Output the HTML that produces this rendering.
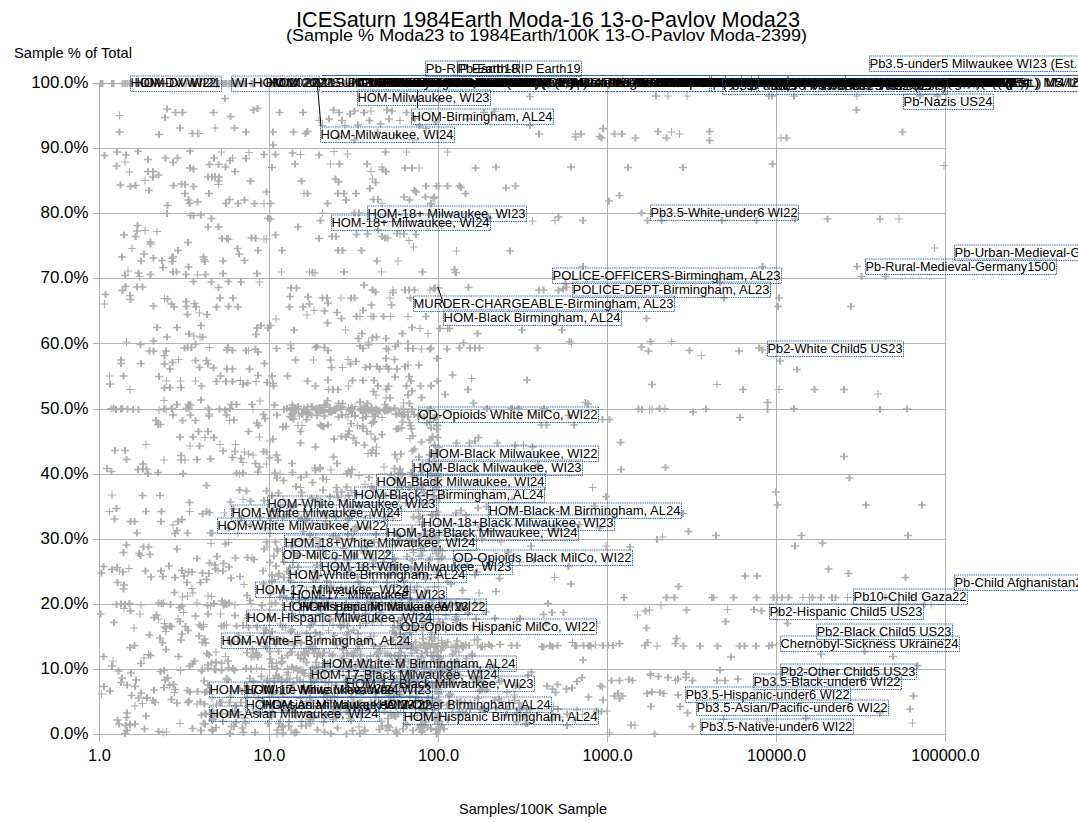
<!DOCTYPE html>
<html><head><meta charset="utf-8"><title>chart</title>
<style>html,body{margin:0;padding:0;background:#fff}svg{display:block}text{font-family:"Liberation Sans",sans-serif;fill:#000}</style></head>
<body>
<svg width="1078" height="823" viewBox="0 0 1078 823">
<rect width="1078" height="823" fill="#fff"/>
<path d="M93 734.5H946M93 669.5H946M93 604.5H946M93 539.5H946M93 474.5H946M93 409.5H946M93 343.5H946M93 278.5H946M93 213.5H946M93 148.5H946M93 83.5H946M99.5 83V742M269.5 83V742M438.5 83V742M607.5 83V742M776.5 83V742M945.5 83V742" stroke="#b3b3b3" stroke-width="1" fill="none" shape-rendering="crispEdges"/>
<path d="M189 593h8M193 589v8M248 558h8M252 554v8M207 543.5h8M211 539.5v8M240 584.5h8M244 580.5v8M204 596h8M208 592v8M263 547h8M267 543v8M188 588.5h8M192 584.5v8M183.5 596h8M187.5 592v8M125 568.5h8M129 564.5v8M207.5 596.5h8M211.5 592.5v8M178.5 597h8M182.5 593v8M224.5 542.5h8M228.5 538.5v8M250 656h8M254 652v8M120 608.5h8M124 604.5v8M130 628h8M134 624v8M109 661h8M113 657v8M216.5 614h8M220.5 610v8M179.5 612.5h8M183.5 608.5v8M206.5 606h8M210.5 602v8M144.5 654.5h8M148.5 650.5v8M174 619h8M178 615v8M257.5 668.5h8M261.5 664.5v8M260 628h8M264 624v8M154.5 619h8M158.5 615v8M246 635.5h8M250 631.5v8M221.5 656.5h8M225.5 652.5v8M136 614h8M140 610v8M140 658h8M144 654v8M137 605h8M141 601v8M160.5 623.5h8M164.5 619.5v8M162 631.5h8M166 627.5v8M131 706h8M135 702v8M193 704h8M197 700v8M208 698h8M212 694v8M163.5 678h8M167.5 674v8M176.5 670.5h8M180.5 666.5v8M176 723.5h8M180 719.5v8M228.5 711h8M232.5 707v8M249.5 713h8M253.5 709v8M142.5 698.5h8M146.5 694.5v8M162.5 732h8M166.5 728v8M159 732.5h8M163 728.5v8M170.5 692.5h8M174.5 688.5v8M97.5 694h8M101.5 690v8M212.5 704h8M216.5 700v8M263.5 679h8M267.5 675v8M252 710h8M256 706v8M138.5 703.5h8M142.5 699.5v8M198.5 669.5h8M202.5 665.5v8M367 434h8M371 430v8M364 453.5h8M368 449.5v8M298 425.5h8M302 421.5v8M266 441h8M270 437v8M429.5 455.5h8M433.5 451.5v8M327 470h8M331 466v8M406 438.5h8M410 434.5v8M367.5 423.5h8M371.5 419.5v8M380 467h8M384 463v8M424 410.5h8M428 406.5v8M383 409h8M387 405v8M393 459h8M397 455v8M294 425.5h8M298 421.5v8M372.5 447h8M376.5 443v8M425 440h8M429 436v8M353.5 425.5h8M357.5 421.5v8M369 422.5h8M373 418.5v8M313.5 523.5h8M317.5 519.5v8M314 501h8M318 497v8M298 499.5h8M302 495.5v8M312 537.5h8M316 533.5v8M279 499.5h8M283 495.5v8M426.5 531.5h8M430.5 527.5v8M408 476h8M412 472v8M341 527.5h8M345 523.5v8M276.5 505h8M280.5 501v8M322 521h8M326 517v8M431 475.5h8M435 471.5v8M347 490.5h8M351 486.5v8M429.5 486h8M433.5 482v8M415.5 522h8M419.5 518v8M273 510h8M277 506v8M425 538.5h8M429 534.5v8M322.5 479.5h8M326.5 475.5v8M388.5 518h8M392.5 514v8M379.5 498.5h8M383.5 494.5v8M434 481h8M438 477v8M313 498h8M317 494v8M296.5 487.5h8M300.5 483.5v8M393.5 487.5h8M397.5 483.5v8M414.5 510h8M418.5 506v8M331.5 536h8M335.5 532v8M332.5 511h8M336.5 507v8M341 501h8M345 497v8M266.5 533h8M270.5 529v8M361 484.5h8M365 480.5v8M344 507h8M348 503v8M429.5 499.5h8M433.5 495.5v8M419 551h8M423 547v8M371 564h8M375 560v8M405 597.5h8M409 593.5v8M270.5 579.5h8M274.5 575.5v8M370 542h8M374 538v8M391 544.5h8M395 540.5v8M368.5 564h8M372.5 560v8M366.5 601.5h8M370.5 597.5v8M428.5 550h8M432.5 546v8M426.5 557h8M430.5 553v8M368.5 599h8M372.5 595v8M369 560h8M373 556v8M302.5 590.5h8M306.5 586.5v8M291 573.5h8M295 569.5v8M424 575.5h8M428 571.5v8M415 556.5h8M419 552.5v8M342 589h8M346 585v8M332.5 539.5h8M336.5 535.5v8M318.5 549h8M322.5 545v8M424 590h8M428 586v8M392.5 568h8M396.5 564v8M430.5 587h8M434.5 583v8M275 574h8M279 570v8M430.5 548.5h8M434.5 544.5v8M369.5 581h8M373.5 577v8M417 550.5h8M421 546.5v8M413 586h8M417 582v8M317.5 598.5h8M321.5 594.5v8M390.5 584.5h8M394.5 580.5v8M396 603h8M400 599v8M380.5 559h8M384.5 555v8M297.5 541h8M301.5 537v8M289 599.5h8M293 595.5v8M339 548.5h8M343 544.5v8M289 552.5h8M293 548.5v8M390.5 558h8M394.5 554v8M409.5 552.5h8M413.5 548.5v8M432.5 572h8M436.5 568v8M366.5 656h8M370.5 652v8M322 665.5h8M326 661.5v8M401 636.5h8M405 632.5v8M293.5 634.5h8M297.5 630.5v8M401.5 659h8M405.5 655v8M299.5 614.5h8M303.5 610.5v8M319 625.5h8M323 621.5v8M433 651.5h8M437 647.5v8M349.5 656h8M353.5 652v8M297 643.5h8M301 639.5v8M381 653h8M385 649v8M430.5 638h8M434.5 634v8M288 641.5h8M292 637.5v8M324.5 630.5h8M328.5 626.5v8M419.5 627.5h8M423.5 623.5v8M345 621h8M349 617v8M395 628h8M399 624v8M427.5 656h8M431.5 652v8M413.5 659h8M417.5 655v8M344.5 631.5h8M348.5 627.5v8M432.5 609h8M436.5 605v8M391.5 645.5h8M395.5 641.5v8M336 668h8M340 664v8M370 636h8M374 632v8M372.5 654.5h8M376.5 650.5v8M425.5 640h8M429.5 636v8M276.5 624h8M280.5 620v8M266.5 616.5h8M270.5 612.5v8M429 644h8M433 640v8M394.5 655.5h8M398.5 651.5v8M388 645h8M392 641v8M330.5 697h8M334.5 693v8M333.5 697.5h8M337.5 693.5v8M392 730h8M396 726v8M384 730.5h8M388 726.5v8M299 670.5h8M303 666.5v8M276.5 720h8M280.5 716v8M361 730h8M365 726v8M379.5 688.5h8M383.5 684.5v8M433.5 723.5h8M437.5 719.5v8M355 727h8M359 723v8M417 727h8M421 723v8M380.5 687h8M384.5 683v8M339 675h8M343 671v8M361.5 683h8M365.5 679v8M382 728h8M386 724v8M342.5 706h8M346.5 702v8M273 734h8M277 730v8M423 701h8M427 697v8M428 673.5h8M432 669.5v8M420 672.5h8M424 668.5v8M413.5 715.5h8M417.5 711.5v8M278 679h8M282 675v8M289 690.5h8M293 686.5v8M321 677.5h8M325 673.5v8M403.5 682h8M407.5 678v8M296.5 698.5h8M300.5 694.5v8M287 730h8M291 726v8M403 705.5h8M407 701.5v8M420 691h8M424 687v8M302.5 701.5h8M306.5 697.5v8M433.5 670.5h8M437.5 666.5v8M419 703.5h8M423 699.5v8M283 675h8M287 671v8M324.5 683h8M328.5 679v8M309.5 673.5h8M313.5 669.5v8M358 703h8M362 699v8M417.5 725.5h8M421.5 721.5v8M319.5 722.5h8M323.5 718.5v8M423.5 716h8M427.5 712v8M275.5 677.5h8M279.5 673.5v8M325.5 677.5h8M329.5 673.5v8M319.5 697h8M323.5 693v8M390.5 693h8M394.5 689v8M373.5 674h8M377.5 670v8M433 720h8M437 716v8M430.5 710.5h8M434.5 706.5v8M398 687h8M402 683v8M389 685.5h8M393 681.5v8M323.5 700h8M327.5 696v8M374 679h8M378 675v8M328.5 696h8M332.5 692v8M327.5 685h8M331.5 681v8M361 705h8M365 701v8M313.5 703h8M317.5 699v8M378 701.5h8M382 697.5v8M279 694.5h8M283 690.5v8M533.5 455h8M537.5 451v8M471 471.5h8M475 467.5v8M588.5 487.5h8M592.5 483.5v8M460.5 533.5h8M464.5 529.5v8M508 499.5h8M512 495.5v8M438 495h8M442 491v8M438.5 551h8M442.5 547v8M497 542h8M501 538v8M550.5 577.5h8M554.5 573.5v8M435.5 550.5h8M439.5 546.5v8M475 593h8M479 589v8M515.5 562h8M519.5 558v8M435.5 598h8M439.5 594v8M462 644.5h8M466 640.5v8M447.5 663h8M451.5 659v8M470.5 666h8M474.5 662v8M442 615.5h8M446 611.5v8M593 623h8M597 619v8M477 629.5h8M481 625.5v8M513 621.5h8M517 617.5v8M568.5 642.5h8M572.5 638.5v8M446 673.5h8M450 669.5v8M571.5 720h8M575.5 716v8M436.5 687.5h8M440.5 683.5v8M434.5 713.5h8M438.5 709.5v8M503 692.5h8M507 688.5v8M495.5 681h8M499.5 677v8M520 716h8M524 712v8M434.5 689.5h8M438.5 685.5v8M549.5 706.5h8M553.5 702.5v8M510.5 695h8M514.5 691v8M578.5 714.5h8M582.5 710.5v8M460.5 702.5h8M464.5 698.5v8M155 410h8M159 406v8M162 409.5h8M166 405.5v8M249 409.5h8M253 405.5v8M107 408.5h8M111 404.5v8M204 408h8M208 404v8M319 409.5h8M323 405.5v8M337 409.5h8M341 405.5v8M360 410h8M364 406v8M367.5 411h8M371.5 407v8M300 408h8M304 404v8M351 406.5h8M355 402.5v8M336.5 408h8M340.5 404v8M364 411.5h8M368 407.5v8M359 407h8M363 403v8M312.5 409.5h8M316.5 405.5v8M344.5 408h8M348.5 404v8M397 409h8M401 405v8M342 414.5h8M346 410.5v8M302 412.5h8M306 408.5v8M295.5 416h8M299.5 412v8M378 417.5h8M382 413.5v8M350.5 416.5h8M354.5 412.5v8M369 412h8M373 408v8M299 413.5h8M303 409.5v8M287.5 410h8M291.5 406v8M287 416.5h8M291 412.5v8M408.5 410h8M412.5 406v8M320.5 411h8M324.5 407v8M344 417h8M348 413v8M387 410.5h8M391 406.5v8M295 517h8M299 513v8M380 516.5h8M384 512.5v8M286 573h8M290 569v8M311.5 571h8M315.5 567v8M115.5 571h8M119.5 567v8M214 570.5h8M218 566.5v8M159.5 603h8M163.5 599v8M452 604h8M456 600v8M231 605h8M235 601v8M193 603h8M197 599v8M247 603.5h8M251 599.5v8M403.5 605.5h8M407.5 601.5v8M342 604h8M346 600v8M306.5 605h8M310.5 601v8M355 475.5h8M359 471.5v8M397.5 473.5h8M401.5 469.5v8M434 473.5h8M438 469.5v8M276 474h8M280 470v8M329 625h8M333 621v8M199.5 624.5h8M203.5 620.5v8M470 626h8M474 622v8M281.5 627.5h8M285.5 623.5v8M222.5 625h8M226.5 621v8M199.5 626.5h8M203.5 622.5v8M437.5 640.5h8M441.5 636.5v8M470.5 640h8M474.5 636v8M295 641.5h8M299 637.5v8M256 643h8M260 639v8M381 646h8M385 642v8M481 646.5h8M485 642.5v8M424 645.5h8M428 641.5v8M426.5 647.5h8M430.5 643.5v8M449 647h8M453 643v8M406.5 646.5h8M410.5 642.5v8M414 647.5h8M418 643.5v8M478.5 646h8M482.5 642v8M447 647.5h8M451 643.5v8M461.5 645.5h8M465.5 641.5v8M473.5 645h8M477.5 641v8M587 646.5h8M591 642.5v8M591.5 645h8M595.5 641v8M252 653.5h8M256 649.5v8M212 652h8M216 648v8M429.5 652h8M433.5 648v8M455 652h8M459 648v8M325.5 653h8M329.5 649v8M431 653h8M435 649v8M339.5 654h8M343.5 650v8M289.5 669.5h8M293.5 665.5v8M283.5 668.5h8M287.5 664.5v8M436.5 669.5h8M440.5 665.5v8M210.5 669h8M214.5 665v8M252.5 668h8M256.5 664v8M326 669.5h8M330 665.5v8M453.5 669.5h8M457.5 665.5v8M272.5 663h8M276.5 659v8M363 661h8M367 657v8M415.5 663.5h8M419.5 659.5v8M414.5 680h8M418.5 676v8M299.5 681.5h8M303.5 677.5v8M364 679h8M368 675v8M408 690h8M412 686v8M269.5 692h8M273.5 688v8M481 690h8M485 686v8M381 690.5h8M385 686.5v8M306 701h8M310 697v8M259.5 701h8M263.5 697v8M302 703.5h8M306 699.5v8M505 702.5h8M509 698.5v8M503.5 709.5h8M507.5 705.5v8M396.5 708h8M400.5 704v8M275 707.5h8M279 703.5v8M429 709.5h8M433 705.5v8M311.5 709h8M315.5 705v8M389.5 715h8M393.5 711v8M224 714h8M228 710v8M512.5 713.5h8M516.5 709.5v8M598.5 687h8M602.5 683v8M523 713h8M527 709v8M556 717h8M560 713v8M573 710h8M577 706v8M389.5 83.5h8M393.5 79.5v8M902.5 83.5h8M906.5 79.5v8M747 83.5h8M751 79.5v8M435 83.5h8M439 79.5v8M841 83.5h8M845 79.5v8M379 83.5h8M383 79.5v8M212.5 83.5h8M216.5 79.5v8M639 83.5h8M643 79.5v8M181 83.5h8M185 79.5v8M215 83.5h8M219 79.5v8M233 83.5h8M237 79.5v8M534 83.5h8M538 79.5v8M669.5 83.5h8M673.5 79.5v8M731 83.5h8M735 79.5v8M231.5 83.5h8M235.5 79.5v8M699 83.5h8M703 79.5v8M809 83.5h8M813 79.5v8M172.5 83.5h8M176.5 79.5v8M495 83.5h8M499 79.5v8M403 83.5h8M407 79.5v8M453 83.5h8M457 79.5v8M284.5 83.5h8M288.5 79.5v8M581.5 83.5h8M585.5 79.5v8M934 83.5h8M938 79.5v8M869 83.5h8M873 79.5v8M503 83.5h8M507 79.5v8M850.5 83.5h8M854.5 79.5v8M674 83.5h8M678 79.5v8M768 83.5h8M772 79.5v8M642 83.5h8M646 79.5v8M155 83.5h8M159 79.5v8M249.5 83.5h8M253.5 79.5v8M851 83.5h8M855 79.5v8M689.5 83.5h8M693.5 79.5v8M549 83.5h8M553 79.5v8M201.5 83.5h8M205.5 79.5v8M739 83.5h8M743 79.5v8M913 83.5h8M917 79.5v8M564 83.5h8M568 79.5v8M687.5 83.5h8M691.5 79.5v8M197 83.5h8M201 79.5v8M146.5 83.5h8M150.5 79.5v8M224 83.5h8M228 79.5v8M664 96h8M668 92v8M683 96h8M687 92v8M853 96h8M857 92v8M667.5 132h8M671.5 128v8M675.5 134h8M679.5 130v8M777 138h8M781 134v8M940 165.5h8M944 161.5v8M895 219h8M899 215v8M930.5 248h8M934.5 244v8M667.5 341.5h8M671.5 337.5v8M697.5 355.5h8M701.5 351.5v8M713 384.5h8M717 380.5v8M775 389.5h8M779 385.5v8M874 394h8M878 390v8M645.5 409.5h8M649.5 405.5v8M648 409h8M652 405v8M661 408.5h8M665 404.5v8M658.5 537h8M662.5 533v8M602 546h8M606 542v8M799 597.5h8M803 593.5v8M805.5 597.5h8M809.5 593.5v8M843.5 597.5h8M847.5 593.5v8M907.5 597.5h8M911.5 593.5v8M633.5 615h8M637.5 611v8M645.5 610h8M649.5 606v8M657 605h8M661 601v8M723.5 609.5h8M727.5 605.5v8M653 646h8M657 642v8M804 646.5h8M808 642.5v8M927 604.5h8M931 600.5v8M646.5 675.5h8M650.5 671.5v8M671.5 680.5h8M675.5 676.5v8M603 711h8M607 707v8M631 725h8M635 721v8M908.5 723h8M912.5 719v8M719.5 719.5h8M723.5 715.5v8M605.5 733h8M609.5 729v8M571.5 134h8M575.5 130v8M599 128.5h8M603 124.5v8M443.5 152h8M447.5 148v8M435 186h8M439 182v8M528.5 221h8M532.5 217v8M551 220.5h8M555 216.5v8M437.5 225.5h8M441.5 221.5v8M452.5 251h8M456.5 247v8M443.5 328.5h8M447.5 324.5v8M567.5 343h8M571.5 339v8M467.5 378.5h8M471.5 374.5v8M519.5 445h8M523.5 441v8M115.5 115.5h8M119.5 111.5v8M211 128h8M215 124v8M193.5 133.5h8M197.5 129.5v8M195 133.5h8M199 129.5v8M367 111h8M371 107v8M315 120.5h8M319 116.5v8M396 120.5h8M400 116.5v8M318.5 125.5h8M322.5 121.5v8M341 125.5h8M345 121.5v8M422 128.5h8M426 124.5v8M409 140h8M413 136v8M121 162h8M125 158v8M125.5 172h8M129.5 168v8M217.5 152h8M221.5 148v8M228.5 158h8M232.5 154v8M245 152.5h8M249 148.5v8M141 180.5h8M145 176.5v8M214.5 184.5h8M218.5 180.5v8M260 203.5h8M264 199.5v8M141 230.5h8M145 226.5v8M153 231.5h8M157 227.5v8M128 248.5h8M132 244.5v8M224.5 239.5h8M228.5 235.5v8M260 239h8M264 235v8M262.5 239h8M266.5 235v8M167.5 258.5h8M171.5 254.5v8M124 271h8M128 267v8M193.5 275h8M197.5 271v8M135.5 276.5h8M139.5 272.5v8M296.5 154.5h8M300.5 150.5v8M330 151.5h8M334 147.5v8M343.5 154h8M347.5 150v8M402.5 152h8M406.5 148v8M326.5 164h8M330.5 160v8M378 167h8M382 163v8M367 171.5h8M371 167.5v8M415 168h8M419 164v8M368.5 179h8M372.5 175v8M300 193.5h8M304 189.5v8M378 203.5h8M382 199.5v8M318.5 213h8M322.5 209v8M396 234h8M400 230v8M405 240.5h8M409 236.5v8M409.5 247h8M413.5 243v8M394 261h8M398 257v8M277.5 272h8M281.5 268v8M305.5 272h8M309.5 268v8M311 273h8M315 269v8M377.5 272h8M381.5 268v8M255.5 282h8M259.5 278v8M100.5 304h8M104.5 300v8M160.5 298.5h8M164.5 294.5v8M195.5 313h8M199.5 309v8M190 336h8M194 332v8M196 337h8M200 333v8M122.5 342h8M126.5 338v8M205.5 347.5h8M209.5 343.5v8M244.5 350.5h8M248.5 346.5v8M174.5 359.5h8M178.5 355.5v8M105.5 376h8M109.5 372v8M162.5 381h8M166.5 377v8M176.5 381h8M180.5 377v8M191.5 381h8M195.5 377v8M236.5 380.5h8M240.5 376.5v8M252 381.5h8M256 377.5v8M126 389.5h8M130 385.5v8M160 400.5h8M164 396.5v8M256 401h8M260 397v8M389 290h8M393 286v8M426 290h8M430 286v8M337 298h8M341 294v8M386 298h8M390 294v8M310 310.5h8M314 306.5v8M303 315h8M307 311v8M356 316.5h8M360 312.5v8M367 316.5h8M371 312.5v8M386.5 316.5h8M390.5 312.5v8M404 316.5h8M408 312.5v8M272 319h8M276 315v8M341.5 330h8M345.5 326v8M416 328.5h8M420 324.5v8M424 333.5h8M428 329.5v8M364.5 342h8M368.5 338v8M286.5 345h8M290.5 341v8M384.5 350h8M388.5 346v8M417.5 349h8M421.5 345v8M309.5 360h8M313.5 356v8M344 359.5h8M348 355.5v8M338.5 367.5h8M342.5 363.5v8M404 365h8M408 361v8M324.5 389.5h8M328.5 385.5v8M344.5 386h8M348.5 382v8M372 395h8M376 391v8M382 398h8M386 394v8M399.5 403h8M403.5 399v8M205 414h8M209 410v8M225.5 420.5h8M229.5 416.5v8M201 437.5h8M205 433.5v8M255.5 437h8M259.5 433v8M142 444.5h8M146 440.5v8M186 446h8M190 442v8M216 444.5h8M220 440.5v8M231.5 444.5h8M235.5 440.5v8M240.5 452h8M244.5 448v8M244.5 454h8M248.5 450v8M249 455h8M253 451v8M160 460h8M164 456v8M181 460h8M185 456v8M239 462.5h8M243 458.5v8M262.5 464h8M266.5 460v8M235.5 474h8M239.5 470v8M108 495h8M112 491v8M239 499.5h8M243 495.5v8M105.5 511.5h8M109.5 507.5v8M185.5 511.5h8M189.5 507.5v8M220.5 513h8M224.5 509v8M169 525h8M173 521v8M234 533h8M238 529v8" stroke="#aeaeae" stroke-width="1.1" fill="none"/>
<path d="M173 549h8M221.5 544h8M205.5 563h8M119 572h8M113 567.5h8M122.5 545h8M135 553.5h8M218 601h8M211 565h8M262.5 542h8M139.5 547h8M170.5 592.5h8M147 577h8M219.5 563.5h8M119.5 552.5h8M225 567h8M171 577.5h8M193 558.5h8M159 576.5h8M231.5 558h8M141.5 571h8M113.5 582.5h8M236 576.5h8M250 559.5h8M227 578h8M211.5 569h8M246 600.5h8M196.5 582.5h8M120 585h8M221 604h8M243.5 557.5h8M183 582.5h8M108 569.5h8M144.5 547h8M119.5 589h8M136.5 555.5h8M243 595.5h8M165 566h8M260 549h8M146 554.5h8M157 571h8M213 556.5h8M99.5 566.5h8M180 576h8M259.5 584h8M202.5 579.5h8M253 655h8M184 630.5h8M130.5 645.5h8M152.5 615h8M175.5 607.5h8M96.5 614h8M160.5 627h8M247 669h8M195 636h8M126.5 611h8M176 621.5h8M244.5 615h8M108 666h8M204 614h8M204 668h8M248.5 649.5h8M162 628h8M205 655h8M242 668.5h8M247.5 657h8M243 652.5h8M156 638h8M178 606h8M110 622.5h8M162 649.5h8M260 633.5h8M150 617.5h8M217.5 663h8M126 647.5h8M254.5 655h8M234.5 635.5h8M146.5 655.5h8M174.5 656.5h8M262 630h8M185.5 666h8M231 615.5h8M254 657h8M263 647h8M177 640h8M261.5 646.5h8M204 665h8M190.5 661h8M244 618h8M158.5 642.5h8M137 663.5h8M178 634h8M212 663h8M188.5 664h8M200.5 639h8M203.5 605.5h8M191.5 616h8M99.5 656.5h8M145.5 635h8M231 705.5h8M173 703h8M208 720.5h8M160 687.5h8M237 702.5h8M209 719h8M254.5 698.5h8M216 702.5h8M202 714.5h8M197 730.5h8M227.5 726.5h8M258.5 686.5h8M208.5 731h8M246 678.5h8M134.5 698h8M123 685h8M123 713h8M238.5 728h8M142 716h8M222.5 678.5h8M251 732.5h8M154.5 731.5h8M185 701h8M264 723.5h8M143 697.5h8M202.5 691.5h8M150 690h8M230.5 670.5h8M106 691h8M217.5 702.5h8M121 733.5h8M239.5 732.5h8M131 686.5h8M113.5 720h8M163.5 678h8M188.5 728.5h8M243 686h8M140.5 729h8M210 715h8M127 673h8M226.5 697h8M123 730.5h8M219 721.5h8M126 725h8M121.5 725.5h8M193.5 691.5h8M208 729.5h8M204 685h8M132 680h8M117 682.5h8M171 689.5h8M235.5 688.5h8M200 681h8M160 670.5h8M232 705.5h8M149 700.5h8M257.5 676.5h8M243 697.5h8M199.5 723.5h8M184 702.5h8M226 733.5h8M186 692h8M118 678h8M122.5 717.5h8M161 680h8M126 724h8M165.5 685h8M167.5 699.5h8M262 705h8M196.5 702h8M151 702.5h8M100 686.5h8M127.5 695.5h8M114.5 671h8M169.5 684.5h8M234.5 712h8M230 726.5h8M183.5 690.5h8M231 711.5h8M115 724h8M232 722.5h8M201 724h8M241.5 723h8M212 727.5h8M225.5 714.5h8M156.5 671.5h8M137 693h8M131 724h8M208.5 710.5h8M218 713.5h8M240.5 718h8M200.5 704h8M395 413.5h8M406.5 425.5h8M282 426.5h8M405.5 422.5h8M407 472.5h8M410.5 449h8M392 414h8M407.5 429h8M380 410h8M279 426.5h8M397 454h8M397.5 428h8M371 439h8M362 416.5h8M426 422h8M433.5 470h8M269 439h8M417.5 472h8M359 426.5h8M311.5 470.5h8M311.5 447h8M296.5 443h8M431.5 417.5h8M417.5 442h8M425.5 455h8M316 467.5h8M365.5 410.5h8M359 428.5h8M296.5 431.5h8M333 463.5h8M265.5 458h8M420 417h8M427 428h8M344 434.5h8M434.5 447.5h8M342 437h8M325 412h8M288 463.5h8M319.5 426.5h8M370 421.5h8M344.5 471h8M425 462h8M390.5 468.5h8M430.5 445h8M404 412h8M408.5 451h8M327 412h8M429.5 417.5h8M363 431.5h8M329.5 457h8M433.5 426h8M394.5 428.5h8M378 434.5h8M302.5 419.5h8M311 468h8M427.5 474h8M359 418h8M307.5 415h8M338 415h8M317.5 426h8M408.5 436h8M352 443h8M345 431h8M279 427h8M433 417h8M368.5 450h8M423 423h8M324 425h8M349.5 438h8M431.5 464h8M272.5 455h8M426.5 440h8M348 469.5h8M418.5 464.5h8M433 425h8M289.5 419h8M372 453.5h8M430.5 456h8M360.5 445h8M274 460h8M316 469h8M392.5 429h8M391 454.5h8M290.5 413.5h8M347 423.5h8M385.5 409.5h8M330 439h8M432 451h8M316.5 425h8M432.5 455h8M331.5 410.5h8M367.5 453h8M396 469h8M315 411h8M337.5 436.5h8M398.5 422h8M415 457h8M433 429.5h8M417.5 489h8M329 536h8M367.5 486.5h8M396 536h8M297 477.5h8M406 539h8M430 495.5h8M306 535h8M395.5 498.5h8M344.5 495.5h8M302.5 474.5h8M326 497h8M432 482h8M432.5 487.5h8M418 502.5h8M344 534h8M307.5 498h8M426.5 476h8M351.5 527h8M410.5 476.5h8M273 478h8M429 491h8M408 532.5h8M337.5 492h8M432 514.5h8M333 492h8M266 523.5h8M428.5 515.5h8M316.5 505h8M432 536h8M355 506h8M418 524.5h8M386.5 495.5h8M334 497.5h8M413 479h8M308.5 523h8M319 478.5h8M335 538h8M287 506.5h8M402.5 503h8M316.5 501h8M408 529h8M395.5 482h8M420 493h8M406.5 487h8M319 490h8M299 531.5h8M381.5 495.5h8M348.5 538.5h8M369.5 489h8M416 516.5h8M363.5 527.5h8M420 533.5h8M274.5 493h8M292 486.5h8M433 512h8M429.5 498.5h8M423 503.5h8M321.5 524.5h8M431 481h8M384.5 514.5h8M320.5 513h8M268 495.5h8M398 486h8M332.5 487.5h8M279.5 480.5h8M348.5 510h8M391.5 480h8M301.5 519.5h8M351.5 492.5h8M423 539h8M342.5 487h8M405 487.5h8M354 527.5h8M350.5 531.5h8M268.5 510h8M392 533.5h8M285 514.5h8M297.5 492.5h8M372 534.5h8M289.5 506h8M416 537h8M308.5 482.5h8M431 537.5h8M365 477.5h8M427.5 514.5h8M418.5 484.5h8M413.5 488.5h8M350.5 529h8M313 565h8M292.5 555.5h8M274.5 576h8M409.5 541.5h8M420 547h8M385 575h8M389.5 559h8M353.5 577h8M354.5 582h8M358.5 567.5h8M366 554.5h8M410.5 590h8M360.5 551h8M363 546h8M294 567h8M286 568h8M406 590h8M370 542.5h8M431.5 548h8M422 604h8M406 592.5h8M308 603h8M413.5 600h8M280 562h8M409 549.5h8M417 548.5h8M311 556.5h8M273.5 551h8M301 600h8M398 597.5h8M391 562.5h8M382 596.5h8M288.5 604h8M390 565h8M434 577h8M357.5 550.5h8M407.5 542.5h8M417.5 555.5h8M391.5 603.5h8M383 582.5h8M273 549h8M388 567.5h8M370.5 597.5h8M294.5 554h8M394 540.5h8M266 562.5h8M289 562.5h8M314.5 577h8M383.5 552.5h8M389 570h8M295 600h8M286.5 580.5h8M350 556.5h8M268 581h8M379 562h8M319.5 598h8M350.5 554.5h8M278.5 590h8M268 575h8M309 579h8M331.5 558.5h8M276 597h8M266.5 594h8M407.5 569.5h8M407 568.5h8M314.5 546h8M316 541.5h8M337 588h8M400.5 594h8M403 556.5h8M377.5 567.5h8M413.5 573.5h8M323 581h8M432.5 553.5h8M424.5 540h8M322 554.5h8M407.5 600.5h8M408 560.5h8M425 560.5h8M362.5 594h8M400.5 595h8M356.5 586.5h8M311.5 579.5h8M282.5 598.5h8M271.5 542h8M400 580.5h8M400.5 587h8M280 577.5h8M342.5 592.5h8M417.5 597h8M280 595.5h8M428.5 600.5h8M290.5 541.5h8M421 592h8M391 593h8M287.5 545.5h8M333.5 567h8M270 556h8M326.5 586h8M343.5 560h8M421.5 579.5h8M272 566h8M356.5 654.5h8M339 650h8M374.5 618.5h8M423 610h8M417.5 615.5h8M265.5 617.5h8M410 668h8M266 636.5h8M306 636.5h8M339.5 658.5h8M326.5 618.5h8M290 645.5h8M283.5 655.5h8M400.5 655.5h8M390 627.5h8M349.5 630h8M426 610h8M425.5 606h8M310.5 621.5h8M427 637h8M345.5 662h8M316 634.5h8M373.5 653.5h8M409 646.5h8M339.5 625.5h8M299.5 659h8M395.5 652.5h8M302.5 633h8M411.5 642h8M425.5 620h8M307.5 624h8M372 615h8M335.5 616.5h8M288 667h8M288 629.5h8M434 656h8M406 632.5h8M308.5 646h8M289 617.5h8M347.5 606.5h8M400 637h8M390.5 634.5h8M350.5 652.5h8M427.5 632.5h8M353.5 619h8M404.5 661.5h8M411.5 650h8M421.5 648.5h8M392 634h8M332.5 645h8M287 631.5h8M413 650.5h8M390 620.5h8M354 634h8M389 631h8M397.5 665h8M305.5 647h8M412 629.5h8M366 667.5h8M274 639.5h8M301 655h8M375.5 651h8M370 646h8M419 638.5h8M351.5 666h8M311.5 649h8M348 654h8M292.5 668.5h8M341 608h8M268 631.5h8M353.5 650h8M340 621.5h8M314.5 652.5h8M430.5 638.5h8M313 656.5h8M348 618h8M294 655h8M416.5 645.5h8M362.5 641h8M314.5 667h8M340.5 646h8M417.5 657.5h8M362 623.5h8M376.5 612.5h8M421.5 621.5h8M354.5 616.5h8M266 651.5h8M326 620h8M330 635.5h8M355 646h8M429.5 660h8M278 658h8M427.5 655.5h8M296.5 658.5h8M390.5 605.5h8M268 666.5h8M394.5 620.5h8M288 613.5h8M316.5 655h8M339 614h8M302.5 662.5h8M386.5 655h8M396.5 662.5h8M308.5 649.5h8M373.5 652.5h8M357 662h8M377.5 621.5h8M316.5 613.5h8M367 608h8M362 613.5h8M366.5 636.5h8M375 660.5h8M266.5 659h8M362 641h8M396 659h8M271.5 644h8M398.5 665h8M426.5 606.5h8M404 645h8M337.5 660.5h8M343 635h8M311.5 632.5h8M353.5 640.5h8M418.5 623.5h8M418.5 630.5h8M368.5 622h8M369 668h8M394 656h8M336 625h8M329.5 642.5h8M391 655.5h8M274.5 651.5h8M428 644h8M400.5 643h8M398 618h8M396 634h8M410 611h8M305 606.5h8M412 664h8M394.5 693.5h8M418 720.5h8M379 686h8M277.5 706.5h8M274 677h8M416.5 707h8M428.5 698.5h8M268.5 694.5h8M433.5 700.5h8M352 676h8M392.5 683h8M266.5 714h8M292.5 732.5h8M285 726h8M294 670.5h8M404 685h8M406 681.5h8M403 725h8M405.5 675h8M390 715.5h8M320.5 732h8M403.5 670h8M268.5 712h8M417.5 674.5h8M332 717h8M302 725.5h8M365.5 673.5h8M343 707h8M357 713.5h8M297.5 721.5h8M342.5 711.5h8M390 696.5h8M347 720.5h8M431 720.5h8M279 733h8M401.5 723.5h8M336.5 709h8M385.5 689.5h8M345 714h8M385.5 727.5h8M416 688h8M265.5 686.5h8M354 707.5h8M275 723.5h8M416.5 726h8M421.5 722h8M399 729h8M377.5 721.5h8M309.5 718h8M430 684.5h8M386.5 713.5h8M320.5 718.5h8M414 699.5h8M285 722h8M411.5 684.5h8M425.5 703.5h8M364 708h8M307 682h8M305 715h8M350 703h8M298.5 672.5h8M434.5 694h8M289 710.5h8M413.5 679.5h8M385 692h8M371.5 670.5h8M380 686.5h8M412.5 697h8M431 719.5h8M417.5 732h8M320.5 672h8M309.5 681h8M284 672.5h8M378 726h8M360.5 731h8M385 695.5h8M292 732h8M321 706h8M392 731.5h8M396.5 695h8M358.5 680h8M432.5 734h8M314 672h8M321 692.5h8M427 728.5h8M393 733.5h8M409 730.5h8M397.5 689h8M384 718.5h8M364.5 680.5h8M317.5 678.5h8M397.5 670h8M273.5 730h8M313.5 730h8M423.5 727.5h8M420.5 710.5h8M359.5 691.5h8M418 700.5h8M390 678.5h8M314 673h8M297.5 726h8M323 696h8M300 687h8M333.5 728h8M290.5 733h8M278 727.5h8M396.5 683h8M364 688h8M321.5 682.5h8M342.5 734h8M434.5 729.5h8M287 688h8M426.5 673h8M405 688.5h8M416 691.5h8M296.5 669.5h8M306 697.5h8M428 683.5h8M380.5 678.5h8M305 719.5h8M403 682h8M386.5 701.5h8M387.5 715.5h8M416.5 707.5h8M406 696h8M404.5 673h8M416.5 691h8M420.5 725.5h8M367 670.5h8M428 700.5h8M424 686.5h8M306.5 723.5h8M343 680h8M344 708h8M266.5 703h8M292 716h8M334 715.5h8M346 718.5h8M279 726h8M432 701.5h8M370.5 704h8M374.5 670.5h8M432.5 684h8M305.5 676h8M272 675.5h8M401 682h8M269 708.5h8M381.5 703.5h8M401.5 676h8M367 702h8M350.5 678.5h8M384 725.5h8M298 706.5h8M408 680h8M418.5 730.5h8M347.5 697h8M420 703.5h8M348.5 730.5h8M412 691.5h8M317.5 691h8M356 733.5h8M415.5 729h8M417 724.5h8M277.5 703h8M432 730h8M356 702.5h8M270 678.5h8M416.5 727h8M425 671.5h8M392 686.5h8M375.5 729.5h8M371.5 697.5h8M431.5 688h8M331 711.5h8M292 708h8M432 703h8M293 678h8M285 705h8M420 709h8M380.5 711.5h8M309.5 715.5h8M387.5 700h8M332 685h8M346.5 707.5h8M268 692.5h8M422.5 685h8M327 733.5h8M329 719.5h8M300.5 673.5h8M424 698h8M357 717.5h8M289.5 684h8M432 717.5h8M299.5 691.5h8M528.5 447h8M533.5 466h8M534.5 464.5h8M550.5 528.5h8M434.5 477h8M482.5 506.5h8M575.5 524.5h8M478 539h8M474 508h8M452 513h8M451.5 536h8M506 508.5h8M435.5 498.5h8M457 510.5h8M484.5 531.5h8M590.5 506h8M462 515h8M602 496.5h8M476.5 527h8M595.5 528h8M473.5 481.5h8M567 584h8M544 603.5h8M564.5 566.5h8M437.5 558h8M473 572h8M495.5 578.5h8M451.5 604h8M458.5 590.5h8M447 584h8M434.5 559h8M504 552h8M471 575h8M443.5 581.5h8M476.5 604h8M484.5 566h8M436 549.5h8M527 546h8M492 591.5h8M435 540h8M530 560h8M438 556.5h8M486 562h8M463.5 564.5h8M434.5 662.5h8M486 667h8M442.5 607h8M579 660h8M542.5 624h8M490 667h8M442 629.5h8M516 618.5h8M447 661.5h8M468.5 656h8M452 616.5h8M482 612h8M457.5 608.5h8M436 658h8M451.5 620h8M439 623h8M441.5 606.5h8M503 626.5h8M437 650.5h8M435.5 622h8M548 612.5h8M462.5 658.5h8M539.5 614.5h8M451.5 651.5h8M454 666.5h8M440 666h8M472 619h8M464 613h8M453 620.5h8M491 618h8M559.5 612.5h8M473.5 639.5h8M444 719.5h8M455 712h8M483 689.5h8M455.5 675h8M438 725h8M448.5 712.5h8M435.5 706h8M452.5 702h8M447.5 684h8M436 716h8M445 695.5h8M563 725.5h8M458.5 712.5h8M511.5 685.5h8M551.5 692.5h8M436 729h8M434.5 672h8M437.5 682.5h8M446.5 694h8M497.5 681h8M515.5 686h8M461.5 714h8M451 669.5h8M548 720h8M445 672h8M554 709h8M434.5 685.5h8M435.5 721h8M440 729h8M524 675h8M523.5 723.5h8M445 675.5h8M584.5 697h8M521.5 723.5h8M495 699h8M434.5 715h8M578 677.5h8M527.5 672h8M512.5 722h8M443 705h8M592.5 711h8M478.5 685.5h8M434.5 692.5h8M458.5 682.5h8M447.5 678.5h8M513.5 713h8M441.5 685h8M474 698.5h8M283 408.5h8M123.5 409h8M205 409.5h8M129 409.5h8M215.5 409h8M118 408.5h8M167.5 408.5h8M134.5 409.5h8M185 408h8M160 409h8M168 408.5h8M109.5 408h8M294.5 409.5h8M112 409.5h8M292 409h8M117 409h8M182.5 408.5h8M280 409.5h8M221 410h8M226 408.5h8M308 407h8M288.5 410.5h8M361.5 408h8M302.5 409.5h8M362 411h8M301 410.5h8M360.5 410h8M315.5 407.5h8M360.5 408h8M319 410.5h8M307.5 406.5h8M330.5 409h8M338.5 407h8M348 407.5h8M326 411.5h8M294 406.5h8M325.5 407.5h8M361.5 411h8M357 408.5h8M311.5 410h8M332.5 408.5h8M316.5 408.5h8M346 410.5h8M367.5 407.5h8M312.5 408.5h8M303.5 407h8M315 409h8M373.5 411h8M372.5 409.5h8M347 409.5h8M372 409h8M317 411h8M288.5 407.5h8M347 408.5h8M381 409.5h8M399.5 409h8M408 409h8M382.5 408.5h8M426.5 409h8M382.5 409.5h8M390.5 408h8M348 412h8M304 414.5h8M287.5 414h8M356.5 410.5h8M330 410.5h8M334.5 417h8M351 415.5h8M381 411h8M414.5 416h8M286 416.5h8M328 411.5h8M410 414.5h8M383.5 411h8M383.5 410.5h8M305.5 413h8M273 415h8M373.5 413.5h8M400 415h8M397.5 414.5h8M404 417h8M320.5 416h8M369.5 416.5h8M289 413h8M375.5 410.5h8M358.5 411h8M287.5 417.5h8M392.5 414.5h8M298 414.5h8M313 415.5h8M326 411h8M398 414.5h8M371 416.5h8M297 519h8M381.5 517h8M347 516h8M409.5 517h8M414.5 518h8M279 517h8M303 519h8M366 515.5h8M345.5 518h8M332 517h8M267 518h8M322.5 515.5h8M344 519.5h8M273.5 516h8M188 572h8M184.5 572h8M275 573.5h8M433.5 570h8M392.5 573h8M311 572.5h8M219 571h8M366 573h8M415 572.5h8M198.5 573h8M347 572h8M283 571.5h8M205 573.5h8M259 571h8M178 570.5h8M97.5 573h8M267.5 604h8M311.5 603.5h8M210 603.5h8M372 604.5h8M446 604.5h8M125.5 603.5h8M316 606h8M258 605.5h8M121 604.5h8M437.5 603.5h8M157.5 603.5h8M363.5 603.5h8M324.5 605.5h8M342 603.5h8M374.5 605.5h8M324 603h8M225 603h8M166.5 604.5h8M428.5 604.5h8M446.5 603.5h8M219.5 605h8M353.5 604h8M117 604h8M112.5 604.5h8M222.5 604.5h8M323 603.5h8M271.5 603h8M447.5 604.5h8M471 603h8M329 605h8M220.5 603h8M154.5 603h8M387.5 603h8M405 604h8M300 604.5h8M324 604h8M377.5 603.5h8M387 475h8M398 473.5h8M397.5 475.5h8M343 473.5h8M288.5 472.5h8M347 474.5h8M394.5 473h8M271 473h8M456 625.5h8M195.5 625h8M389.5 627.5h8M403 625h8M356 625.5h8M410 626h8M253 627h8M181.5 626.5h8M167.5 626.5h8M278.5 627h8M166 626h8M458 626.5h8M220 625.5h8M232.5 626h8M396.5 626.5h8M244.5 627.5h8M217.5 626h8M197.5 627h8M433 625.5h8M394 627h8M239 625.5h8M306 627h8M343 626h8M337 627h8M254.5 642.5h8M297 642.5h8M438 643h8M279.5 640h8M227 643h8M198.5 642.5h8M238 642h8M223.5 640.5h8M387 640.5h8M291 643h8M396.5 642.5h8M261.5 642.5h8M389 640h8M337.5 640.5h8M316.5 640.5h8M201.5 643h8M284.5 642.5h8M229.5 641.5h8M234 641.5h8M246 642h8M237.5 642h8M336 640.5h8M453 641h8M443.5 642h8M272.5 640.5h8M270 640h8M425 646h8M419.5 644.5h8M458.5 646.5h8M441.5 646h8M459 647.5h8M422.5 645.5h8M425 645h8M496 644.5h8M421 645h8M400 645h8M477 647h8M485 644.5h8M459.5 645.5h8M453.5 646h8M376 646.5h8M404 646.5h8M465 645.5h8M439 646.5h8M457.5 645.5h8M451.5 646h8M403 646.5h8M408 647h8M433 646.5h8M438.5 646h8M402.5 645h8M487.5 646h8M439 646h8M396.5 647h8M431 646.5h8M538 646.5h8M586 645.5h8M513 645.5h8M507.5 645.5h8M584.5 646h8M546 645.5h8M539.5 647h8M572.5 646h8M548.5 646.5h8M579.5 645.5h8M571 646h8M553.5 645.5h8M300 652.5h8M302.5 651.5h8M397 652.5h8M286.5 652.5h8M374 654h8M252.5 653h8M418 653.5h8M300 652h8M320 652.5h8M395.5 652.5h8M310 653.5h8M423 652.5h8M304 653.5h8M468 654h8M300.5 653.5h8M288 652h8M407.5 653h8M343 653h8M448.5 654h8M203 653.5h8M328.5 654.5h8M319 653h8M383.5 654h8M308.5 668h8M386.5 669.5h8M411.5 670h8M229 668.5h8M217.5 670.5h8M224.5 668h8M407 669.5h8M211.5 670h8M395 669.5h8M211.5 670h8M313 669.5h8M475.5 670.5h8M440 668.5h8M197.5 671h8M273 668.5h8M339 669h8M438.5 670.5h8M436 668.5h8M346.5 669h8M359.5 669h8M420.5 668.5h8M210.5 669h8M345.5 669h8M354 661.5h8M277.5 663h8M420.5 662.5h8M323.5 663.5h8M320.5 663.5h8M212 662h8M375 661h8M437.5 661h8M454.5 662.5h8M420 662h8M384.5 662.5h8M278.5 661.5h8M430.5 661h8M453 661.5h8M224 661h8M312 662.5h8M268 663.5h8M388 661h8M212 663h8M207.5 663h8M278 661.5h8M359 661.5h8M364 679h8M469.5 679.5h8M448.5 679h8M436 681.5h8M313.5 679h8M310 680.5h8M263 680.5h8M224 680h8M399.5 679h8M444.5 679h8M473 682h8M478 680.5h8M283 680h8M421 680.5h8M475 679h8M341.5 681.5h8M375.5 680.5h8M222.5 679h8M277.5 681.5h8M449.5 679.5h8M473.5 679h8M375.5 681.5h8M393 679h8M296 680h8M270 681h8M249.5 681h8M285.5 679h8M372.5 692h8M386.5 691h8M207 691h8M227 691.5h8M238 691.5h8M309 690.5h8M250.5 692.5h8M302 692h8M475.5 691h8M243.5 690h8M477.5 690h8M355 691h8M233.5 691h8M248.5 691h8M358 690.5h8M259.5 691h8M261 690h8M273 692h8M356.5 692.5h8M201 692.5h8M352.5 692h8M378.5 691.5h8M245 690.5h8M206 691h8M362 690.5h8M386.5 692h8M423.5 700.5h8M274.5 702h8M510.5 700.5h8M394 702.5h8M456.5 701.5h8M455.5 702h8M490.5 700.5h8M497 701.5h8M326.5 700.5h8M274.5 702.5h8M413 701h8M515 703h8M349.5 702h8M445.5 703h8M436.5 702.5h8M259.5 702.5h8M466.5 703h8M225.5 702.5h8M307.5 701h8M434.5 701h8M461 703.5h8M479 709.5h8M476.5 709.5h8M492 707.5h8M522.5 708.5h8M517.5 707h8M525.5 709.5h8M281.5 710h8M351.5 707.5h8M363.5 710h8M329.5 709.5h8M466 709h8M516 710h8M334 707h8M418 710h8M480.5 709.5h8M197.5 715h8M201 713.5h8M456 714.5h8M303.5 714h8M309 716.5h8M394 714h8M420.5 714.5h8M407.5 716h8M234.5 715.5h8M209.5 716.5h8M255 714h8M502.5 714.5h8M267.5 716.5h8M391.5 716.5h8M322 715h8M502 715h8M462 713.5h8M573 681.5h8M548.5 689h8M568 688h8M553.5 684.5h8M543 686h8M596.5 686h8M562.5 689h8M548.5 713.5h8M563 714h8M597.5 711.5h8M548.5 717.5h8M521 715.5h8M682.5 83.5h8M490 83.5h8M852 83.5h8M736.5 83.5h8M242 83.5h8M595 83.5h8M444.5 83.5h8M648 83.5h8M568.5 83.5h8M923 83.5h8M781.5 83.5h8M704 83.5h8M350.5 83.5h8M594 83.5h8M772.5 83.5h8M238.5 83.5h8M727 83.5h8M367 83.5h8M914 83.5h8M277 83.5h8M895 83.5h8M386 83.5h8M446 83.5h8M911.5 83.5h8M290.5 83.5h8M492 83.5h8M644.5 83.5h8M381 83.5h8M742.5 83.5h8M580.5 83.5h8M739 83.5h8M420.5 83.5h8M556.5 83.5h8M754 83.5h8M799.5 83.5h8M413 83.5h8M341 83.5h8M740 83.5h8M461 83.5h8M651 83.5h8M642 83.5h8M757 83.5h8M892.5 83.5h8M403 83.5h8M782.5 83.5h8M275.5 83.5h8M558.5 83.5h8M671 83.5h8M178 83.5h8M454 83.5h8M347.5 83.5h8M768 83.5h8M247.5 83.5h8M740 83.5h8M858 83.5h8M654 83.5h8M348.5 83.5h8M617 83.5h8M347 83.5h8M307 83.5h8M676.5 83.5h8M779.5 83.5h8M695.5 83.5h8M127 83.5h8M237.5 83.5h8M577.5 83.5h8M156.5 83.5h8M214.5 83.5h8M638.5 83.5h8M394.5 83.5h8M302 83.5h8M294.5 83.5h8M784.5 83.5h8M149 83.5h8M147 83.5h8M470.5 83.5h8M638.5 83.5h8M602 83.5h8M542.5 83.5h8M309 83.5h8M937.5 83.5h8M909.5 83.5h8M930 83.5h8M514.5 83.5h8M703 83.5h8M282.5 83.5h8M545.5 83.5h8M285.5 83.5h8M919 83.5h8M899 83.5h8M714.5 83.5h8M175 83.5h8M134.5 83.5h8M714 83.5h8M339.5 83.5h8M257.5 83.5h8M160 83.5h8M414 83.5h8M781.5 83.5h8M207.5 83.5h8M249.5 83.5h8M509 83.5h8M513 83.5h8M229 83.5h8M584.5 83.5h8M295 83.5h8M141.5 83.5h8M704 83.5h8M925 83.5h8M722.5 83.5h8M787.5 83.5h8M233.5 83.5h8M299 83.5h8M433.5 83.5h8M802.5 83.5h8M182 83.5h8M634.5 83.5h8M520 83.5h8M292 83.5h8M864 83.5h8M209 83.5h8M227 83.5h8M497 83.5h8M644 83.5h8M483 83.5h8M716 83.5h8M508.5 83.5h8M320 83.5h8M689.5 83.5h8M240 83.5h8M613.5 83.5h8M319 83.5h8M311 83.5h8M155.5 83.5h8M921.5 83.5h8M320.5 83.5h8M303.5 83.5h8M884 83.5h8M875 83.5h8M742.5 83.5h8M919 83.5h8M276.5 83.5h8M257 83.5h8M210.5 83.5h8M126 83.5h8M578 83.5h8M534.5 83.5h8M610 83.5h8M187.5 83.5h8M569.5 83.5h8M448.5 83.5h8M732.5 83.5h8M802 83.5h8M498 83.5h8M655 83.5h8M474.5 83.5h8M922 83.5h8M412 83.5h8M720.5 83.5h8M817 83.5h8M424.5 83.5h8M747 83.5h8M619.5 83.5h8M752 83.5h8M185.5 83.5h8M457 83.5h8M654 83.5h8M722.5 83.5h8M870 83.5h8M709.5 83.5h8M680.5 83.5h8M476 83.5h8M271 83.5h8M485 83.5h8M330.5 83.5h8M408.5 83.5h8M925.5 83.5h8M885.5 83.5h8M807.5 83.5h8M328 83.5h8M141 83.5h8M848 83.5h8M392.5 83.5h8M757 83.5h8M773 83.5h8M209.5 83.5h8M380.5 83.5h8M424 83.5h8M558 83.5h8M457 83.5h8M359 83.5h8M135 83.5h8M709 83.5h8M268 83.5h8M685 83.5h8M733.5 83.5h8M327 83.5h8M295 83.5h8M96.5 83.5h8M98.5 83.5h8M108 83.5h8M109.5 83.5h8M118.5 83.5h8M121 83.5h8M123.5 83.5h8M218 83.5h8M220 83.5h8M222 83.5h8M225.5 83.5h8M652 96h8M765 96h8M768 96h8M790 96h8M916 96h8M933.5 96h8M852.5 110h8M599 128.5h8M597.5 138h8M610.5 134h8M618 134h8M631.5 138h8M654 131.5h8M662.5 138h8M705.5 131.5h8M705.5 140.5h8M782.5 138h8M898.5 132h8M624 167.5h8M679 167.5h8M768.5 164h8M615.5 195.5h8M605 201h8M637.5 213h8M643.5 220.5h8M657.5 220.5h8M718 220.5h8M752.5 220.5h8M791 219h8M823.5 219h8M876 219h8M758.5 266.5h8M853 266.5h8M857.5 276.5h8M881.5 276.5h8M716 282.5h8M720 298h8M775 298h8M774 306.5h8M847 306.5h8M642.5 318.5h8M646.5 341.5h8M637.5 347h8M644.5 351h8M685.5 350.5h8M735 351h8M755 348h8M758.5 350h8M776 361h8M793 369.5h8M648 384.5h8M739 389.5h8M810.5 389.5h8M840 389.5h8M763.5 402.5h8M763.5 409.5h8M634.5 409h8M638 409.5h8M655.5 408.5h8M689 412h8M702 409h8M790 408.5h8M876 409.5h8M903 409h8M598.5 419.5h8M605.5 419.5h8M736 417.5h8M616.5 442.5h8M840 456.5h8M661.5 467.5h8M617 469.5h8M845.5 478h8M772 492h8M773.5 505h8M862 505h8M918 505h8M679 513.5h8M684.5 531.5h8M653 539.5h8M712 535.5h8M797.5 535.5h8M904 535.5h8M626 547h8M791 546h8M818.5 543h8M824.5 569h8M844.5 573.5h8M901.5 577.5h8M741 576h8M753 576h8M674.5 586.5h8M620 597.5h8M662.5 597.5h8M670.5 597.5h8M708 597.5h8M709.5 597.5h8M729.5 597.5h8M752.5 597.5h8M769.5 597.5h8M773 597.5h8M778 597.5h8M784.5 597.5h8M808.5 597.5h8M817 597.5h8M828 597.5h8M831.5 597.5h8M881.5 597.5h8M641.5 611h8M682.5 610h8M750 609.5h8M757.5 611h8M721.5 621.5h8M642.5 628h8M783.5 623.5h8M773 612.5h8M672.5 638.5h8M643.5 642.5h8M599 645.5h8M604 645.5h8M609 645.5h8M615.5 643.5h8M641 645.5h8M671.5 643.5h8M679.5 646h8M696 646h8M713.5 646h8M735.5 646h8M740.5 646h8M752 646h8M765 646h8M768 645h8M727 657h8M817 654h8M860.5 651.5h8M889 656.5h8M920.5 604.5h8M894.5 604.5h8M913.5 665.5h8M716 670h8M607.5 680.5h8M615.5 680.5h8M625 679.5h8M628.5 680.5h8M654.5 676.5h8M664 677.5h8M674 679h8M682 677.5h8M688.5 680.5h8M713 680.5h8M721 680.5h8M734 679h8M646.5 674h8M682 674h8M599 700h8M610.5 696h8M614 693.5h8M615.5 698.5h8M618.5 696h8M643 693.5h8M648 692h8M656 692.5h8M659.5 693.5h8M674 695h8M909.5 696h8M647 706.5h8M676 706.5h8M683.5 713h8M906 709h8M627 725h8M688.5 726.5h8M763 721h8M802 718h8M650.5 734h8M876 713h8M526 96.5h8M480 112.5h8M490.5 111.5h8M463.5 119h8M526 125.5h8M535 134h8M571.5 137h8M577 134h8M595.5 136.5h8M471.5 168h8M492 167h8M567 167h8M443.5 186h8M455.5 186h8M457 187.5h8M461.5 193.5h8M502 188h8M511.5 186h8M429.5 198.5h8M427 204h8M554.5 217h8M579 220.5h8M484.5 218.5h8M506 251h8M450.5 269.5h8M452 272.5h8M579 266.5h8M451.5 272.5h8M431 288h8M434.5 288h8M464.5 287.5h8M535 290h8M539.5 290h8M554.5 290.5h8M559 289h8M562.5 287.5h8M561.5 283.5h8M436 328.5h8M445.5 328.5h8M473.5 333.5h8M518 330h8M558 330h8M565.5 341.5h8M427 348h8M443 349h8M455.5 348h8M459.5 343h8M466 348h8M471 348h8M475.5 348h8M533.5 348h8M434 358.5h8M448.5 375h8M523 380h8M433.5 381h8M427 385.5h8M464 389.5h8M441 394.5h8M469.5 403h8M581.5 402.5h8M584 404h8M483 408.5h8M507.5 408.5h8M514.5 408.5h8M540 408.5h8M564.5 415.5h8M537.5 425h8M542.5 425h8M570 425h8M428.5 436.5h8M433.5 437.5h8M452.5 443h8M465.5 443h8M471 441h8M474.5 437.5h8M493.5 443h8M511 445h8M221 98.5h8M115.5 132h8M163 109h8M161 117.5h8M171.5 112.5h8M178.5 112.5h8M155 134.5h8M176 128h8M209.5 112.5h8M226.5 116.5h8M230.5 128h8M188.5 133.5h8M242 132h8M249.5 110h8M253.5 108.5h8M275.5 112.5h8M299 112.5h8M269 132h8M289.5 132h8M301.5 133.5h8M303.5 131.5h8M269 145h8M329.5 110h8M335 112.5h8M346 114h8M350.5 111h8M360 112.5h8M383 110h8M388 111h8M325 119h8M338 120.5h8M365.5 120.5h8M385 119h8M354 125h8M376.5 124h8M415.5 125.5h8M432 122h8M435 99.5h8M402.5 112.5h8M411 118.5h8M373.5 132h8M393 135h8M334.5 137h8M350.5 140h8M100.5 155.5h8M113 152h8M122 155h8M134 151.5h8M112.5 166h8M144 159.5h8M161.5 158h8M169 162.5h8M173.5 158h8M186 151h8M186 168h8M189.5 169h8M210 158h8M205.5 164.5h8M214.5 164.5h8M221.5 167h8M226 160.5h8M242 158.5h8M260 154.5h8M231 171.5h8M144 171.5h8M149 171.5h8M154.5 175h8M149 177h8M116.5 185h8M126.5 186.5h8M131.5 185.5h8M145 190.5h8M169.5 185.5h8M177.5 184h8M181 184.5h8M189.5 186.5h8M204 177h8M208 177h8M211 176.5h8M215 177h8M214.5 181h8M246.5 181h8M262.5 192h8M181 193.5h8M205 193.5h8M184.5 200h8M185.5 203.5h8M193.5 202h8M163.5 205.5h8M225.5 199.5h8M222 203.5h8M234 203.5h8M240.5 200h8M250.5 203.5h8M163 213.5h8M186.5 215.5h8M189.5 215.5h8M197 215h8M207.5 218.5h8M264 218.5h8M133.5 225.5h8M133 231h8M120 235h8M131.5 236.5h8M146.5 242h8M146.5 244h8M184 242.5h8M204 227h8M214.5 227h8M218 238.5h8M223 238.5h8M247.5 238h8M251.5 238.5h8M233.5 248.5h8M235 254h8M254 250.5h8M240.5 260.5h8M174 250.5h8M140 254h8M118 257h8M149.5 258h8M137 261h8M158 260.5h8M168.5 261.5h8M169 257h8M199.5 257h8M200 259.5h8M201 261.5h8M219 261h8M159 267.5h8M184.5 267h8M134.5 273h8M146.5 274.5h8M169 272h8M172.5 272h8M182 274.5h8M201.5 274.5h8M219 273.5h8M253 273.5h8M121 275.5h8M271.5 154.5h8M288.5 153h8M315 155h8M381.5 152h8M291 164h8M268 167.5h8M335.5 164h8M363 164h8M378.5 169.5h8M382 171.5h8M401 168h8M408 168h8M297.5 181h8M331.5 179h8M334.5 182h8M371.5 182.5h8M366 188.5h8M422 186h8M432.5 186h8M410.5 190.5h8M412 192h8M303.5 193.5h8M334 193.5h8M340 193.5h8M352 193.5h8M342 200h8M323.5 203.5h8M266.5 203.5h8M369.5 199.5h8M374 199.5h8M400 197h8M405.5 200h8M421.5 197h8M430 197h8M427 203.5h8M350.5 213h8M355 213h8M266.5 219h8M316.5 220.5h8M294 227h8M271.5 235h8M315 238.5h8M328 236.5h8M332 236.5h8M352.5 234.5h8M363.5 234h8M378 236.5h8M381 238h8M383.5 238h8M393 233.5h8M400 234h8M412 234.5h8M374 230h8M278 250.5h8M334 250.5h8M338.5 250.5h8M357.5 250.5h8M373 261h8M308.5 272.5h8M340 272h8M418.5 272h8M189.5 281.5h8M207.5 282h8M224.5 281.5h8M237 282h8M214.5 287.5h8M121.5 286.5h8M118.5 290.5h8M133 287h8M138.5 287h8M101.5 294.5h8M126 295.5h8M126.5 299.5h8M149.5 306h8M163.5 299h8M167.5 304h8M170 307h8M182 301.5h8M182.5 306.5h8M190.5 303.5h8M192 307h8M216 298h8M229 298h8M212.5 307h8M224.5 306.5h8M234 307h8M183.5 314.5h8M203 314.5h8M153 327.5h8M173 327.5h8M197 325.5h8M257 325.5h8M253 328h8M264 328h8M252 334.5h8M163 337h8M185 334h8M198.5 337h8M136.5 344.5h8M149.5 341h8M191.5 344h8M180.5 348h8M183.5 347.5h8M187.5 347.5h8M224 347.5h8M223 350h8M228.5 350.5h8M242 350.5h8M251.5 349h8M254 352h8M145.5 351h8M149.5 351h8M162 351h8M160.5 355.5h8M117 360h8M117 363.5h8M137 363.5h8M160.5 364h8M168.5 362.5h8M191.5 360.5h8M202.5 360.5h8M204 364h8M195.5 367.5h8M209.5 368h8M166 369h8M223 369h8M228.5 369h8M245.5 369h8M260.5 363.5h8M119.5 376h8M106 384h8M155 376.5h8M216.5 376h8M212.5 381.5h8M222 381.5h8M228.5 381.5h8M239 384.5h8M243.5 383h8M254 375.5h8M263 382.5h8M160.5 388h8M166 387.5h8M177 387.5h8M197.5 386h8M197 400h8M173 404.5h8M184.5 404.5h8M186.5 405h8M227.5 404.5h8M232.5 404.5h8M248 404.5h8M287 288h8M292.5 288h8M360 285h8M368.5 290h8M371.5 292h8M389 292.5h8M401 290h8M405 290h8M410.5 290h8M430 289h8M286 296.5h8M304 297h8M318.5 298h8M323 298h8M347 298h8M350.5 298h8M406.5 298h8M285.5 307h8M299 307h8M305.5 304h8M320.5 311h8M324 303h8M333 312.5h8M367.5 305h8M359 310.5h8M387.5 305h8M337.5 318.5h8M352.5 316.5h8M369.5 316.5h8M379.5 316.5h8M422 316.5h8M323.5 323h8M266.5 325.5h8M290 330h8M358 333.5h8M408 327.5h8M398.5 333.5h8M354.5 338.5h8M368.5 337.5h8M372.5 337h8M382 338.5h8M272.5 348.5h8M287 348.5h8M311.5 347.5h8M313 346.5h8M320.5 347.5h8M324 350.5h8M356 346h8M359 348.5h8M364.5 345h8M382.5 348.5h8M391.5 346.5h8M394 343.5h8M404 343.5h8M404 348.5h8M409 348.5h8M426 349h8M433 358.5h8M291.5 360h8M326.5 360h8M346.5 364h8M352 361.5h8M327.5 367.5h8M361.5 367.5h8M366 366.5h8M373 366.5h8M375.5 369h8M382 358.5h8M382.5 366.5h8M384.5 369h8M390.5 359.5h8M393 369h8M401 366.5h8M415 365h8M268 376h8M283.5 376h8M269 383.5h8M269.5 386h8M303.5 381h8M311.5 386h8M324 380h8M329 389.5h8M334 389.5h8M348.5 380.5h8M359 380.5h8M370 380.5h8M374 386h8M384.5 386h8M382.5 389.5h8M391 377h8M405 376.5h8M407 381h8M402.5 386h8M416.5 386h8M427 386h8M433.5 381h8M369.5 391.5h8M386 398h8M404 395h8M408 391h8M417.5 397.5h8M323.5 400.5h8M322.5 404.5h8M320.5 405h8M334.5 403.5h8M338.5 403.5h8M356 402h8M363.5 403.5h8M381 404.5h8M405.5 403.5h8M270.5 405h8M288.5 405h8M169 415h8M186.5 415h8M205 416h8M222.5 415h8M152 420.5h8M154 424.5h8M156.5 424.5h8M178.5 420.5h8M191.5 420.5h8M230 420h8M253 423h8M254.5 425.5h8M261 418.5h8M259.5 414.5h8M194.5 431.5h8M204 431.5h8M244.5 431.5h8M176 437h8M189 437h8M210 437.5h8M195.5 446h8M111 450.5h8M121 450.5h8M219 451h8M231 451.5h8M259.5 451.5h8M262.5 452h8M122.5 459.5h8M177 455.5h8M177 460h8M193 459.5h8M206.5 459h8M228.5 457.5h8M237 458.5h8M251.5 463.5h8M255.5 467h8M103 468.5h8M107.5 471.5h8M134 469.5h8M139 464h8M139 469h8M142.5 469h8M144 473.5h8M154 472.5h8M179 473.5h8M232.5 473h8M239 473h8M254 472h8M202.5 485.5h8M235.5 490h8M242.5 491h8M262.5 491h8M138.5 495.5h8M156 495.5h8M185.5 502.5h8M246.5 501h8M260 500.5h8M226.5 502h8M112.5 508.5h8M142 511.5h8M157.5 511.5h8M198.5 514h8M202.5 511.5h8M205.5 512.5h8M110.5 519h8M126.5 521.5h8M130.5 521.5h8M157 521.5h8M178 519.5h8M174 521.5h8M133 533h8M173 530.5h8M171 533.5h8M183.5 533h8M206.5 533h8M208.5 533h8M229.5 509h8M237 518.5h8M246.5 525h8M256 517h8M261 528h8M224.5 528h8" stroke="#aeaeae" stroke-width="1.3" fill="none"/>
<path d="M177 545.5v7M225.5 540.5v7M209.5 559.5v7M123 568.5v7M117 564v7M126.5 541.5v7M139 550v7M222 597.5v7M215 561.5v7M266.5 538.5v7M143.5 543.5v7M174.5 589v7M151 573.5v7M223.5 560v7M123.5 549v7M229 563.5v7M175 574v7M197 555v7M163 573v7M235.5 554.5v7M145.5 567.5v7M117.5 579v7M240 573v7M254 556v7M231 574.5v7M215.5 565.5v7M250 597v7M200.5 579v7M124 581.5v7M225 600.5v7M247.5 554v7M187 579v7M112 566v7M148.5 543.5v7M123.5 585.5v7M140.5 552v7M247 592v7M169 562.5v7M264 545.5v7M150 551v7M161 567.5v7M217 553v7M103.5 563v7M184 572.5v7M263.5 580.5v7M206.5 576v7M257 651.5v7M188 627v7M134.5 642v7M156.5 611.5v7M179.5 604v7M100.5 610.5v7M164.5 623.5v7M251 665.5v7M199 632.5v7M130.5 607.5v7M180 618v7M248.5 611.5v7M112 662.5v7M208 610.5v7M208 664.5v7M252.5 646v7M166 624.5v7M209 651.5v7M246 665v7M251.5 653.5v7M247 649v7M160 634.5v7M182 602.5v7M114 619v7M166 646v7M264 630v7M154 614v7M221.5 659.5v7M130 644v7M258.5 651.5v7M238.5 632v7M150.5 652v7M178.5 653v7M266 626.5v7M189.5 662.5v7M235 612v7M258 653.5v7M267 643.5v7M181 636.5v7M265.5 643v7M208 661.5v7M194.5 657.5v7M248 614.5v7M162.5 639v7M141 660v7M182 630.5v7M216 659.5v7M192.5 660.5v7M204.5 635.5v7M207.5 602v7M195.5 612.5v7M103.5 653v7M149.5 631.5v7M235 702v7M177 699.5v7M212 717v7M164 684v7M241 699v7M213 715.5v7M258.5 695v7M220 699v7M206 711v7M201 727v7M231.5 723v7M262.5 683v7M212.5 727.5v7M250 675v7M138.5 694.5v7M127 681.5v7M127 709.5v7M242.5 724.5v7M146 712.5v7M226.5 675v7M255 729v7M158.5 728v7M189 697.5v7M268 720v7M147 694v7M206.5 688v7M154 686.5v7M234.5 667v7M110 687.5v7M221.5 699v7M125 730v7M243.5 729v7M135 683v7M117.5 716.5v7M167.5 674.5v7M192.5 725v7M247 682.5v7M144.5 725.5v7M214 711.5v7M131 669.5v7M230.5 693.5v7M127 727v7M223 718v7M130 721.5v7M125.5 722v7M197.5 688v7M212 726v7M208 681.5v7M136 676.5v7M121 679v7M175 686v7M239.5 685v7M204 677.5v7M164 667v7M236 702v7M153 697v7M261.5 673v7M247 694v7M203.5 720v7M188 699v7M230 730v7M190 688.5v7M122 674.5v7M126.5 714v7M165 676.5v7M130 720.5v7M169.5 681.5v7M171.5 696v7M266 701.5v7M200.5 698.5v7M155 699v7M104 683v7M131.5 692v7M118.5 667.5v7M173.5 681v7M238.5 708.5v7M234 723v7M187.5 687v7M235 708v7M119 720.5v7M236 719v7M205 720.5v7M245.5 719.5v7M216 724v7M229.5 711v7M160.5 668v7M141 689.5v7M135 720.5v7M212.5 707v7M222 710v7M244.5 714.5v7M204.5 700.5v7M399 410v7M410.5 422v7M286 423v7M409.5 419v7M411 469v7M414.5 445.5v7M396 410.5v7M411.5 425.5v7M384 406.5v7M283 423v7M401 450.5v7M401.5 424.5v7M375 435.5v7M366 413v7M430 418.5v7M437.5 466.5v7M273 435.5v7M421.5 468.5v7M363 423v7M315.5 467v7M315.5 443.5v7M300.5 439.5v7M435.5 414v7M421.5 438.5v7M429.5 451.5v7M320 464v7M369.5 407v7M363 425v7M300.5 428v7M337 460v7M269.5 454.5v7M424 413.5v7M431 424.5v7M348 431v7M438.5 444v7M346 433.5v7M329 408.5v7M292 460v7M323.5 423v7M374 418v7M348.5 467.5v7M429 458.5v7M394.5 465v7M434.5 441.5v7M408 408.5v7M412.5 447.5v7M331 408.5v7M433.5 414v7M367 428v7M333.5 453.5v7M437.5 422.5v7M398.5 425v7M382 431v7M306.5 416v7M315 464.5v7M431.5 470.5v7M363 414.5v7M311.5 411.5v7M342 411.5v7M321.5 422.5v7M412.5 432.5v7M356 439.5v7M349 427.5v7M283 423.5v7M437 413.5v7M372.5 446.5v7M427 419.5v7M328 421.5v7M353.5 434.5v7M435.5 460.5v7M276.5 451.5v7M430.5 436.5v7M352 466v7M422.5 461v7M437 421.5v7M293.5 415.5v7M376 450v7M434.5 452.5v7M364.5 441.5v7M278 456.5v7M320 465.5v7M396.5 425.5v7M395 451v7M294.5 410v7M351 420v7M389.5 406v7M334 435.5v7M436 447.5v7M320.5 421.5v7M436.5 451.5v7M335.5 407v7M371.5 449.5v7M400 465.5v7M319 407.5v7M341.5 433v7M402.5 418.5v7M419 453.5v7M437 426v7M421.5 485.5v7M333 532.5v7M371.5 483v7M400 532.5v7M301 474v7M410 535.5v7M434 492v7M310 531.5v7M399.5 495v7M348.5 492v7M306.5 471v7M330 493.5v7M436 478.5v7M436.5 484v7M422 499v7M348 530.5v7M311.5 494.5v7M430.5 472.5v7M355.5 523.5v7M414.5 473v7M277 474.5v7M433 487.5v7M412 529v7M341.5 488.5v7M436 511v7M337 488.5v7M270 520v7M432.5 512v7M320.5 501.5v7M436 532.5v7M359 502.5v7M422 521v7M390.5 492v7M338 494v7M417 475.5v7M312.5 519.5v7M323 475v7M339 534.5v7M291 503v7M406.5 499.5v7M320.5 497.5v7M412 525.5v7M399.5 478.5v7M424 489.5v7M410.5 483.5v7M323 486.5v7M303 528v7M385.5 492v7M352.5 535v7M373.5 485.5v7M420 513v7M367.5 524v7M424 530v7M278.5 489.5v7M296 483v7M437 508.5v7M433.5 495v7M427 500v7M325.5 521v7M435 477.5v7M388.5 511v7M324.5 509.5v7M272 492v7M402 482.5v7M336.5 484v7M283.5 477v7M352.5 506.5v7M395.5 476.5v7M305.5 516v7M355.5 489v7M427 535.5v7M346.5 483.5v7M409 484v7M358 524v7M354.5 528v7M272.5 506.5v7M396 530v7M289 511v7M301.5 489v7M376 531v7M293.5 502.5v7M420 533.5v7M312.5 479v7M435 534v7M369 474v7M431.5 511v7M422.5 481v7M417.5 485v7M354.5 525.5v7M317 561.5v7M296.5 552v7M278.5 572.5v7M413.5 538v7M424 543.5v7M389 571.5v7M393.5 555.5v7M357.5 573.5v7M358.5 578.5v7M362.5 564v7M370 551v7M414.5 586.5v7M364.5 547.5v7M367 542.5v7M298 563.5v7M290 564.5v7M410 586.5v7M374 539v7M435.5 544.5v7M426 600.5v7M410 589v7M312 599.5v7M417.5 596.5v7M284 558.5v7M413 546v7M421 545v7M315 553v7M277.5 547.5v7M305 596.5v7M402 594v7M395 559v7M386 593v7M292.5 600.5v7M394 561.5v7M438 573.5v7M361.5 547v7M411.5 539v7M421.5 552v7M395.5 600v7M387 579v7M277 545.5v7M392 564v7M374.5 594v7M298.5 550.5v7M398 537v7M270 559v7M293 559v7M318.5 573.5v7M387.5 549v7M393 566.5v7M299 596.5v7M290.5 577v7M354 553v7M272 577.5v7M383 558.5v7M323.5 594.5v7M354.5 551v7M282.5 586.5v7M272 571.5v7M313 575.5v7M335.5 555v7M280 593.5v7M270.5 590.5v7M411.5 566v7M411 565v7M318.5 542.5v7M320 538v7M341 584.5v7M404.5 590.5v7M407 553v7M381.5 564v7M417.5 570v7M327 577.5v7M436.5 550v7M428.5 536.5v7M326 551v7M411.5 597v7M412 557v7M429 557v7M366.5 590.5v7M404.5 591.5v7M360.5 583v7M315.5 576v7M286.5 595v7M275.5 538.5v7M404 577v7M404.5 583.5v7M284 574v7M346.5 589v7M421.5 593.5v7M284 592v7M432.5 597v7M294.5 538v7M425 588.5v7M395 589.5v7M291.5 542v7M337.5 563.5v7M274 552.5v7M330.5 582.5v7M347.5 556.5v7M425.5 576v7M276 562.5v7M360.5 651v7M343 646.5v7M378.5 615v7M427 606.5v7M421.5 612v7M269.5 614v7M414 664.5v7M270 633v7M310 633v7M343.5 655v7M330.5 615v7M294 642v7M287.5 652v7M404.5 652v7M394 624v7M353.5 626.5v7M430 606.5v7M429.5 602.5v7M314.5 618v7M431 633.5v7M349.5 658.5v7M320 631v7M377.5 650v7M413 643v7M343.5 622v7M303.5 655.5v7M399.5 649v7M306.5 629.5v7M415.5 638.5v7M429.5 616.5v7M311.5 620.5v7M376 611.5v7M339.5 613v7M292 663.5v7M292 626v7M438 652.5v7M410 629v7M312.5 642.5v7M293 614v7M351.5 603v7M404 633.5v7M394.5 631v7M354.5 649v7M431.5 629v7M357.5 615.5v7M408.5 658v7M415.5 646.5v7M425.5 645v7M396 630.5v7M336.5 641.5v7M291 628v7M417 647v7M394 617v7M358 630.5v7M393 627.5v7M401.5 661.5v7M309.5 643.5v7M416 626v7M370 664v7M278 636v7M305 651.5v7M379.5 647.5v7M374 642.5v7M423 635v7M355.5 662.5v7M315.5 645.5v7M352 650.5v7M296.5 665v7M345 604.5v7M272 628v7M357.5 646.5v7M344 618v7M318.5 649v7M434.5 635v7M317 653v7M352 614.5v7M298 651.5v7M420.5 642v7M366.5 637.5v7M318.5 663.5v7M344.5 642.5v7M421.5 654v7M366 620v7M380.5 609v7M425.5 618v7M358.5 613v7M270 648v7M330 616.5v7M334 632v7M359 642.5v7M433.5 656.5v7M282 654.5v7M431.5 652v7M300.5 655v7M394.5 602v7M272 663v7M398.5 617v7M292 610v7M320.5 651.5v7M343 610.5v7M306.5 659v7M390.5 651.5v7M400.5 659v7M312.5 646v7M377.5 649v7M361 658.5v7M381.5 618v7M320.5 610v7M371 604.5v7M366 610v7M370.5 633v7M379 657v7M270.5 655.5v7M366 637.5v7M400 655.5v7M275.5 640.5v7M402.5 661.5v7M430.5 603v7M408 641.5v7M341.5 657v7M347 631.5v7M315.5 629v7M357.5 637v7M422.5 620v7M422.5 627v7M372.5 618.5v7M373 664.5v7M398 652.5v7M340 621.5v7M333.5 639v7M395 652v7M278.5 648v7M432 640.5v7M404.5 639.5v7M402 614.5v7M400 630.5v7M414 607.5v7M309 603v7M416 660.5v7M398.5 690v7M422 717v7M383 682.5v7M281.5 703v7M278 673.5v7M420.5 703.5v7M432.5 695v7M272.5 691v7M437.5 697v7M356 672.5v7M396.5 679.5v7M270.5 710.5v7M296.5 729v7M289 722.5v7M298 667v7M408 681.5v7M410 678v7M407 721.5v7M409.5 671.5v7M394 712v7M324.5 728.5v7M407.5 666.5v7M272.5 708.5v7M421.5 671v7M336 713.5v7M306 722v7M369.5 670v7M347 703.5v7M361 710v7M301.5 718v7M346.5 708v7M394 693v7M351 717v7M435 717v7M283 729.5v7M405.5 720v7M340.5 705.5v7M389.5 686v7M349 710.5v7M389.5 724v7M420 684.5v7M269.5 683v7M358 704v7M279 720v7M420.5 722.5v7M425.5 718.5v7M403 725.5v7M381.5 718v7M313.5 714.5v7M434 681v7M390.5 710v7M324.5 715v7M418 696v7M289 718.5v7M415.5 681v7M429.5 700v7M368 704.5v7M311 678.5v7M309 711.5v7M354 699.5v7M302.5 669v7M438.5 690.5v7M293 707v7M417.5 676v7M389 688.5v7M375.5 667v7M384 683v7M416.5 693.5v7M435 716v7M421.5 728.5v7M324.5 668.5v7M313.5 677.5v7M288 669v7M382 722.5v7M364.5 727.5v7M389 692v7M296 728.5v7M325 702.5v7M396 728v7M400.5 691.5v7M362.5 676.5v7M436.5 730.5v7M318 668.5v7M325 689v7M431 725v7M397 730v7M413 727v7M401.5 685.5v7M388 715v7M368.5 677v7M321.5 675v7M401.5 666.5v7M277.5 726.5v7M317.5 726.5v7M427.5 724v7M424.5 707v7M363.5 688v7M422 697v7M394 675v7M318 669.5v7M301.5 722.5v7M327 692.5v7M304 683.5v7M337.5 724.5v7M294.5 729.5v7M282 724v7M400.5 679.5v7M368 684.5v7M325.5 679v7M346.5 730.5v7M438.5 726v7M291 684.5v7M430.5 669.5v7M409 685v7M420 688v7M300.5 666v7M310 694v7M432 680v7M384.5 675v7M309 716v7M407 678.5v7M390.5 698v7M391.5 712v7M420.5 704v7M410 692.5v7M408.5 669.5v7M420.5 687.5v7M424.5 722v7M371 667v7M432 697v7M428 683v7M310.5 720v7M347 676.5v7M348 704.5v7M270.5 699.5v7M296 712.5v7M338 712v7M350 715v7M283 722.5v7M436 698v7M374.5 700.5v7M378.5 667v7M436.5 680.5v7M309.5 672.5v7M276 672v7M405 678.5v7M273 705v7M385.5 700v7M405.5 672.5v7M371 698.5v7M354.5 675v7M388 722v7M302 703v7M412 676.5v7M422.5 727v7M351.5 693.5v7M424 700v7M352.5 727v7M416 688v7M321.5 687.5v7M360 730v7M419.5 725.5v7M421 721v7M281.5 699.5v7M436 726.5v7M360 699v7M274 675v7M420.5 723.5v7M429 668v7M396 683v7M379.5 726v7M375.5 694v7M435.5 684.5v7M335 708v7M296 704.5v7M436 699.5v7M297 674.5v7M289 701.5v7M424 705.5v7M384.5 708v7M313.5 712v7M391.5 696.5v7M336 681.5v7M350.5 704v7M272 689v7M426.5 681.5v7M331 730v7M333 716v7M304.5 670v7M428 694.5v7M361 714v7M293.5 680.5v7M436 714v7M303.5 688v7M532.5 443.5v7M537.5 462.5v7M538.5 461v7M554.5 525v7M438.5 473.5v7M486.5 503v7M579.5 521v7M482 535.5v7M478 504.5v7M456 509.5v7M455.5 532.5v7M510 505v7M439.5 495v7M461 507v7M488.5 528v7M594.5 502.5v7M466 511.5v7M606 493v7M480.5 523.5v7M599.5 524.5v7M477.5 478v7M571 580.5v7M548 600v7M568.5 563v7M441.5 554.5v7M477 568.5v7M499.5 575v7M455.5 600.5v7M462.5 587v7M451 580.5v7M438.5 555.5v7M508 548.5v7M475 571.5v7M447.5 578v7M480.5 600.5v7M488.5 562.5v7M440 546v7M531 542.5v7M496 588v7M439 536.5v7M534 556.5v7M442 553v7M490 558.5v7M467.5 561v7M438.5 659v7M490 663.5v7M446.5 603.5v7M583 656.5v7M546.5 620.5v7M494 663.5v7M446 626v7M520 615v7M451 658v7M472.5 652.5v7M456 613v7M486 608.5v7M461.5 605v7M440 654.5v7M455.5 616.5v7M443 619.5v7M445.5 603v7M507 623v7M441 647v7M439.5 618.5v7M552 609v7M466.5 655v7M543.5 611v7M455.5 648v7M458 663v7M444 662.5v7M476 615.5v7M468 609.5v7M457 617v7M495 614.5v7M563.5 609v7M477.5 636v7M448 716v7M459 708.5v7M487 686v7M459.5 671.5v7M442 721.5v7M452.5 709v7M439.5 702.5v7M456.5 698.5v7M451.5 680.5v7M440 712.5v7M449 692v7M567 722v7M462.5 709v7M515.5 682v7M555.5 689v7M440 725.5v7M438.5 668.5v7M441.5 679v7M450.5 690.5v7M501.5 677.5v7M519.5 682.5v7M465.5 710.5v7M455 666v7M552 716.5v7M449 668.5v7M558 705.5v7M438.5 682v7M439.5 717.5v7M444 725.5v7M528 671.5v7M527.5 720v7M449 672v7M588.5 693.5v7M525.5 720v7M499 695.5v7M438.5 711.5v7M582 674v7M531.5 668.5v7M516.5 718.5v7M447 701.5v7M596.5 707.5v7M482.5 682v7M438.5 689v7M462.5 679v7M451.5 675v7M517.5 709.5v7M445.5 681.5v7M478 695v7M287 405v7M127.5 405.5v7M209 406v7M133 406v7M219.5 405.5v7M122 405v7M171.5 405v7M138.5 406v7M189 404.5v7M164 405.5v7M172 405v7M113.5 404.5v7M298.5 406v7M116 406v7M296 405.5v7M121 405.5v7M186.5 405v7M284 406v7M225 406.5v7M230 405v7M312 403.5v7M292.5 407v7M365.5 404.5v7M306.5 406v7M366 407.5v7M305 407v7M364.5 406.5v7M319.5 404v7M364.5 404.5v7M323 407v7M311.5 403v7M334.5 405.5v7M342.5 403.5v7M352 404v7M330 408v7M298 403v7M329.5 404v7M365.5 407.5v7M361 405v7M315.5 406.5v7M336.5 405v7M320.5 405v7M350 407v7M371.5 404v7M316.5 405v7M307.5 403.5v7M319 405.5v7M377.5 407.5v7M376.5 406v7M351 406v7M376 405.5v7M321 407.5v7M292.5 404v7M351 405v7M385 406v7M403.5 405.5v7M412 405.5v7M386.5 405v7M430.5 405.5v7M386.5 406v7M394.5 404.5v7M352 408.5v7M308 411v7M291.5 410.5v7M360.5 407v7M334 407v7M338.5 413.5v7M355 412v7M385 407.5v7M418.5 412.5v7M290 413v7M332 408v7M414 411v7M387.5 407.5v7M387.5 407v7M309.5 409.5v7M277 411.5v7M377.5 410v7M404 411.5v7M401.5 411v7M408 413.5v7M324.5 412.5v7M373.5 413v7M293 409.5v7M379.5 407v7M362.5 407.5v7M291.5 414v7M396.5 411v7M302 411v7M317 412v7M330 407.5v7M402 411v7M375 413v7M301 515.5v7M385.5 513.5v7M351 512.5v7M413.5 513.5v7M418.5 514.5v7M283 513.5v7M307 515.5v7M370 512v7M349.5 514.5v7M336 513.5v7M271 514.5v7M326.5 512v7M348 516v7M277.5 512.5v7M192 568.5v7M188.5 568.5v7M279 570v7M437.5 566.5v7M396.5 569.5v7M315 569v7M223 567.5v7M370 569.5v7M419 569v7M202.5 569.5v7M351 568.5v7M287 568v7M209 570v7M263 567.5v7M182 567v7M101.5 569.5v7M271.5 600.5v7M315.5 600v7M214 600v7M376 601v7M450 601v7M129.5 600v7M320 602.5v7M262 602v7M125 601v7M441.5 600v7M161.5 600v7M367.5 600v7M328.5 602v7M346 600v7M378.5 602v7M328 599.5v7M229 599.5v7M170.5 601v7M432.5 601v7M450.5 600v7M223.5 601.5v7M357.5 600.5v7M121 600.5v7M116.5 601v7M226.5 601v7M327 600v7M275.5 599.5v7M451.5 601v7M475 599.5v7M333 601.5v7M224.5 599.5v7M158.5 599.5v7M391.5 599.5v7M409 600.5v7M304 601v7M328 600.5v7M381.5 600v7M391 471.5v7M402 470v7M401.5 472v7M347 470v7M292.5 469v7M351 471v7M398.5 469.5v7M275 469.5v7M460 622v7M199.5 621.5v7M393.5 624v7M407 621.5v7M360 622v7M414 622.5v7M257 623.5v7M185.5 623v7M171.5 623v7M282.5 623.5v7M170 622.5v7M462 623v7M224 622v7M236.5 622.5v7M400.5 623v7M248.5 624v7M221.5 622.5v7M201.5 623.5v7M437 622v7M398 623.5v7M243 622v7M310 623.5v7M347 622.5v7M341 623.5v7M258.5 639v7M301 639v7M442 639.5v7M283.5 636.5v7M231 639.5v7M202.5 639v7M242 638.5v7M227.5 637v7M391 637v7M295 639.5v7M400.5 639v7M265.5 639v7M393 636.5v7M341.5 637v7M320.5 637v7M205.5 639.5v7M288.5 639v7M233.5 638v7M238 638v7M250 638.5v7M241.5 638.5v7M340 637v7M457 637.5v7M447.5 638.5v7M276.5 637v7M274 636.5v7M429 642.5v7M423.5 641v7M462.5 643v7M445.5 642.5v7M463 644v7M426.5 642v7M429 641.5v7M500 641v7M425 641.5v7M404 641.5v7M481 643.5v7M489 641v7M463.5 642v7M457.5 642.5v7M380 643v7M408 643v7M469 642v7M443 643v7M461.5 642v7M455.5 642.5v7M407 643v7M412 643.5v7M437 643v7M442.5 642.5v7M406.5 641.5v7M491.5 642.5v7M443 642.5v7M400.5 643.5v7M435 643v7M542 643v7M590 642v7M517 642v7M511.5 642v7M588.5 642.5v7M550 642v7M543.5 643.5v7M576.5 642.5v7M552.5 643v7M583.5 642v7M575 642.5v7M557.5 642v7M304 649v7M306.5 648v7M401 649v7M290.5 649v7M378 650.5v7M256.5 649.5v7M422 650v7M304 648.5v7M324 649v7M399.5 649v7M314 650v7M427 649v7M308 650v7M472 650.5v7M304.5 650v7M292 648.5v7M411.5 649.5v7M347 649.5v7M452.5 650.5v7M207 650v7M332.5 651v7M323 649.5v7M387.5 650.5v7M312.5 664.5v7M390.5 666v7M415.5 666.5v7M233 665v7M221.5 667v7M228.5 664.5v7M411 666v7M215.5 666.5v7M399 666v7M215.5 666.5v7M317 666v7M479.5 667v7M444 665v7M201.5 667.5v7M277 665v7M343 665.5v7M442.5 667v7M440 665v7M350.5 665.5v7M363.5 665.5v7M424.5 665v7M214.5 665.5v7M349.5 665.5v7M358 658v7M281.5 659.5v7M424.5 659v7M327.5 660v7M324.5 660v7M216 658.5v7M379 657.5v7M441.5 657.5v7M458.5 659v7M424 658.5v7M388.5 659v7M282.5 658v7M434.5 657.5v7M457 658v7M228 657.5v7M316 659v7M272 660v7M392 657.5v7M216 659.5v7M211.5 659.5v7M282 658v7M363 658v7M368 675.5v7M473.5 676v7M452.5 675.5v7M440 678v7M317.5 675.5v7M314 677v7M267 677v7M228 676.5v7M403.5 675.5v7M448.5 675.5v7M477 678.5v7M482 677v7M287 676.5v7M425 677v7M479 675.5v7M345.5 678v7M379.5 677v7M226.5 675.5v7M281.5 678v7M453.5 676v7M477.5 675.5v7M379.5 678v7M397 675.5v7M300 676.5v7M274 677.5v7M253.5 677.5v7M289.5 675.5v7M376.5 688.5v7M390.5 687.5v7M211 687.5v7M231 688v7M242 688v7M313 687v7M254.5 689v7M306 688.5v7M479.5 687.5v7M247.5 686.5v7M481.5 686.5v7M359 687.5v7M237.5 687.5v7M252.5 687.5v7M362 687v7M263.5 687.5v7M265 686.5v7M277 688.5v7M360.5 689v7M205 689v7M356.5 688.5v7M382.5 688v7M249 687v7M210 687.5v7M366 687v7M390.5 688.5v7M427.5 697v7M278.5 698.5v7M514.5 697v7M398 699v7M460.5 698v7M459.5 698.5v7M494.5 697v7M501 698v7M330.5 697v7M278.5 699v7M417 697.5v7M519 699.5v7M353.5 698.5v7M449.5 699.5v7M440.5 699v7M263.5 699v7M470.5 699.5v7M229.5 699v7M311.5 697.5v7M438.5 697.5v7M465 700v7M483 706v7M480.5 706v7M496 704v7M526.5 705v7M521.5 703.5v7M529.5 706v7M285.5 706.5v7M355.5 704v7M367.5 706.5v7M333.5 706v7M470 705.5v7M520 706.5v7M338 703.5v7M422 706.5v7M484.5 706v7M201.5 711.5v7M205 710v7M460 711v7M307.5 710.5v7M313 713v7M398 710.5v7M424.5 711v7M411.5 712.5v7M238.5 712v7M213.5 713v7M259 710.5v7M506.5 711v7M271.5 713v7M395.5 713v7M326 711.5v7M506 711.5v7M466 710v7M577 678v7M552.5 685.5v7M572 684.5v7M557.5 681v7M547 682.5v7M600.5 682.5v7M566.5 685.5v7M552.5 710v7M567 710.5v7M601.5 708v7M552.5 714v7M525 712v7M686.5 80v7M494 80v7M856 80v7M740.5 80v7M246 80v7M599 80v7M448.5 80v7M652 80v7M572.5 80v7M927 80v7M785.5 80v7M708 80v7M354.5 80v7M598 80v7M776.5 80v7M242.5 80v7M731 80v7M371 80v7M918 80v7M281 80v7M899 80v7M390 80v7M450 80v7M915.5 80v7M294.5 80v7M496 80v7M648.5 80v7M385 80v7M746.5 80v7M584.5 80v7M743 80v7M424.5 80v7M560.5 80v7M758 80v7M803.5 80v7M417 80v7M345 80v7M744 80v7M465 80v7M655 80v7M646 80v7M761 80v7M896.5 80v7M407 80v7M786.5 80v7M279.5 80v7M562.5 80v7M675 80v7M182 80v7M458 80v7M351.5 80v7M772 80v7M251.5 80v7M744 80v7M862 80v7M658 80v7M352.5 80v7M621 80v7M351 80v7M311 80v7M680.5 80v7M783.5 80v7M699.5 80v7M131 80v7M241.5 80v7M581.5 80v7M160.5 80v7M218.5 80v7M642.5 80v7M398.5 80v7M306 80v7M298.5 80v7M788.5 80v7M153 80v7M151 80v7M474.5 80v7M642.5 80v7M606 80v7M546.5 80v7M313 80v7M941.5 80v7M913.5 80v7M934 80v7M518.5 80v7M707 80v7M286.5 80v7M549.5 80v7M289.5 80v7M923 80v7M903 80v7M718.5 80v7M179 80v7M138.5 80v7M718 80v7M343.5 80v7M261.5 80v7M164 80v7M418 80v7M785.5 80v7M211.5 80v7M253.5 80v7M513 80v7M517 80v7M233 80v7M588.5 80v7M299 80v7M145.5 80v7M708 80v7M929 80v7M726.5 80v7M791.5 80v7M237.5 80v7M303 80v7M437.5 80v7M806.5 80v7M186 80v7M638.5 80v7M524 80v7M296 80v7M868 80v7M213 80v7M231 80v7M501 80v7M648 80v7M487 80v7M720 80v7M512.5 80v7M324 80v7M693.5 80v7M244 80v7M617.5 80v7M323 80v7M315 80v7M159.5 80v7M925.5 80v7M324.5 80v7M307.5 80v7M888 80v7M879 80v7M746.5 80v7M923 80v7M280.5 80v7M261 80v7M214.5 80v7M130 80v7M582 80v7M538.5 80v7M614 80v7M191.5 80v7M573.5 80v7M452.5 80v7M736.5 80v7M806 80v7M502 80v7M659 80v7M478.5 80v7M926 80v7M416 80v7M724.5 80v7M821 80v7M428.5 80v7M751 80v7M623.5 80v7M756 80v7M189.5 80v7M461 80v7M658 80v7M726.5 80v7M874 80v7M713.5 80v7M684.5 80v7M480 80v7M275 80v7M489 80v7M334.5 80v7M412.5 80v7M929.5 80v7M889.5 80v7M811.5 80v7M332 80v7M145 80v7M852 80v7M396.5 80v7M761 80v7M777 80v7M213.5 80v7M384.5 80v7M428 80v7M562 80v7M461 80v7M363 80v7M139 80v7M713 80v7M272 80v7M689 80v7M737.5 80v7M331 80v7M299 80v7M100.5 80v7M102.5 80v7M112 80v7M113.5 80v7M122.5 80v7M125 80v7M127.5 80v7M222 80v7M224 80v7M226 80v7M229.5 80v7M656 92.5v7M769 92.5v7M772 92.5v7M794 92.5v7M920 92.5v7M937.5 92.5v7M856.5 106.5v7M603 125v7M601.5 134.5v7M614.5 130.5v7M622 130.5v7M635.5 134.5v7M658 128v7M666.5 134.5v7M709.5 128v7M709.5 137v7M786.5 134.5v7M902.5 128.5v7M628 164v7M683 164v7M772.5 160.5v7M619.5 192v7M609 197.5v7M641.5 209.5v7M647.5 217v7M661.5 217v7M722 217v7M756.5 217v7M795 215.5v7M827.5 215.5v7M880 215.5v7M762.5 263v7M857 263v7M861.5 273v7M885.5 273v7M720 279v7M724 294.5v7M779 294.5v7M778 303v7M851 303v7M646.5 315v7M650.5 338v7M641.5 343.5v7M648.5 347.5v7M689.5 347v7M739 347.5v7M759 344.5v7M762.5 346.5v7M780 357.5v7M797 366v7M652 381v7M743 386v7M814.5 386v7M844 386v7M767.5 399v7M767.5 406v7M638.5 405.5v7M642 406v7M659.5 405v7M693 408.5v7M706 405.5v7M794 405v7M880 406v7M907 405.5v7M602.5 416v7M609.5 416v7M740 414v7M620.5 439v7M844 453v7M665.5 464v7M621 466v7M849.5 474.5v7M776 488.5v7M777.5 501.5v7M866 501.5v7M922 501.5v7M683 510v7M688.5 528v7M657 536v7M716 532v7M801.5 532v7M908 532v7M630 543.5v7M795 542.5v7M822.5 539.5v7M828.5 565.5v7M848.5 570v7M905.5 574v7M745 572.5v7M757 572.5v7M678.5 583v7M624 594v7M666.5 594v7M674.5 594v7M712 594v7M713.5 594v7M733.5 594v7M756.5 594v7M773.5 594v7M777 594v7M782 594v7M788.5 594v7M812.5 594v7M821 594v7M832 594v7M835.5 594v7M885.5 594v7M645.5 607.5v7M686.5 606.5v7M754 606v7M761.5 607.5v7M725.5 618v7M646.5 624.5v7M787.5 620v7M777 609v7M676.5 635v7M647.5 639v7M603 642v7M608 642v7M613 642v7M619.5 640v7M645 642v7M675.5 640v7M683.5 642.5v7M700 642.5v7M717.5 642.5v7M739.5 642.5v7M744.5 642.5v7M756 642.5v7M769 642.5v7M772 641.5v7M731 653.5v7M821 650.5v7M864.5 648v7M893 653v7M924.5 601v7M898.5 601v7M917.5 662v7M720 666.5v7M611.5 677v7M619.5 677v7M629 676v7M632.5 677v7M658.5 673v7M668 674v7M678 675.5v7M686 674v7M692.5 677v7M717 677v7M725 677v7M738 675.5v7M650.5 670.5v7M686 670.5v7M603 696.5v7M614.5 692.5v7M618 690v7M619.5 695v7M622.5 692.5v7M647 690v7M652 688.5v7M660 689v7M663.5 690v7M678 691.5v7M913.5 692.5v7M651 703v7M680 703v7M687.5 709.5v7M910 705.5v7M631 721.5v7M692.5 723v7M767 717.5v7M806 714.5v7M654.5 730.5v7M880 709.5v7M530 93v7M484 109v7M494.5 108v7M467.5 115.5v7M530 122v7M539 130.5v7M575.5 133.5v7M581 130.5v7M599.5 133v7M475.5 164.5v7M496 163.5v7M571 163.5v7M447.5 182.5v7M459.5 182.5v7M461 184v7M465.5 190v7M506 184.5v7M515.5 182.5v7M433.5 195v7M431 200.5v7M558.5 213.5v7M583 217v7M488.5 215v7M510 247.5v7M454.5 266v7M456 269v7M583 263v7M455.5 269v7M435 284.5v7M438.5 284.5v7M468.5 284v7M539 286.5v7M543.5 286.5v7M558.5 287v7M563 285.5v7M566.5 284v7M565.5 280v7M440 325v7M449.5 325v7M477.5 330v7M522 326.5v7M562 326.5v7M569.5 338v7M431 344.5v7M447 345.5v7M459.5 344.5v7M463.5 339.5v7M470 344.5v7M475 344.5v7M479.5 344.5v7M537.5 344.5v7M438 355v7M452.5 371.5v7M527 376.5v7M437.5 377.5v7M431 382v7M468 386v7M445 391v7M473.5 399.5v7M585.5 399v7M588 400.5v7M487 405v7M511.5 405v7M518.5 405v7M544 405v7M568.5 412v7M541.5 421.5v7M546.5 421.5v7M574 421.5v7M432.5 433v7M437.5 434v7M456.5 439.5v7M469.5 439.5v7M475 437.5v7M478.5 434v7M497.5 439.5v7M515 441.5v7M225 95v7M119.5 128.5v7M167 105.5v7M165 114v7M175.5 109v7M182.5 109v7M159 131v7M180 124.5v7M213.5 109v7M230.5 113v7M234.5 124.5v7M192.5 130v7M246 128.5v7M253.5 106.5v7M257.5 105v7M279.5 109v7M303 109v7M273 128.5v7M293.5 128.5v7M305.5 130v7M307.5 128v7M273 141.5v7M333.5 106.5v7M339 109v7M350 110.5v7M354.5 107.5v7M364 109v7M387 106.5v7M392 107.5v7M329 115.5v7M342 117v7M369.5 117v7M389 115.5v7M358 121.5v7M380.5 120.5v7M419.5 122v7M436 118.5v7M439 96v7M406.5 109v7M415 115v7M377.5 128.5v7M397 131.5v7M338.5 133.5v7M354.5 136.5v7M104.5 152v7M117 148.5v7M126 151.5v7M138 148v7M116.5 162.5v7M148 156v7M165.5 154.5v7M173 159v7M177.5 154.5v7M190 147.5v7M190 164.5v7M193.5 165.5v7M214 154.5v7M209.5 161v7M218.5 161v7M225.5 163.5v7M230 157v7M246 155v7M264 151v7M235 168v7M148 168v7M153 168v7M158.5 171.5v7M153 173.5v7M120.5 181.5v7M130.5 183v7M135.5 182v7M149 187v7M173.5 182v7M181.5 180.5v7M185 181v7M193.5 183v7M208 173.5v7M212 173.5v7M215 173v7M219 173.5v7M218.5 177.5v7M250.5 177.5v7M266.5 188.5v7M185 190v7M209 190v7M188.5 196.5v7M189.5 200v7M197.5 198.5v7M167.5 202v7M229.5 196v7M226 200v7M238 200v7M244.5 196.5v7M254.5 200v7M167 210v7M190.5 212v7M193.5 212v7M201 211.5v7M211.5 215v7M268 215v7M137.5 222v7M137 227.5v7M124 231.5v7M135.5 233v7M150.5 238.5v7M150.5 240.5v7M188 239v7M208 223.5v7M218.5 223.5v7M222 235v7M227 235v7M251.5 234.5v7M255.5 235v7M237.5 245v7M239 250.5v7M258 247v7M244.5 257v7M178 247v7M144 250.5v7M122 253.5v7M153.5 254.5v7M141 257.5v7M162 257v7M172.5 258v7M173 253.5v7M203.5 253.5v7M204 256v7M205 258v7M223 257.5v7M163 264v7M188.5 263.5v7M138.5 269.5v7M150.5 271v7M173 268.5v7M176.5 268.5v7M186 271v7M205.5 271v7M223 270v7M257 270v7M125 272v7M275.5 151v7M292.5 149.5v7M319 151.5v7M385.5 148.5v7M295 160.5v7M272 164v7M339.5 160.5v7M367 160.5v7M382.5 166v7M386 168v7M405 164.5v7M412 164.5v7M301.5 177.5v7M335.5 175.5v7M338.5 178.5v7M375.5 179v7M370 185v7M426 182.5v7M436.5 182.5v7M414.5 187v7M416 188.5v7M307.5 190v7M338 190v7M344 190v7M356 190v7M346 196.5v7M327.5 200v7M270.5 200v7M373.5 196v7M378 196v7M404 193.5v7M409.5 196.5v7M425.5 193.5v7M434 193.5v7M431 200v7M354.5 209.5v7M359 209.5v7M270.5 215.5v7M320.5 217v7M298 223.5v7M275.5 231.5v7M319 235v7M332 233v7M336 233v7M356.5 231v7M367.5 230.5v7M382 233v7M385 234.5v7M387.5 234.5v7M397 230v7M404 230.5v7M416 231v7M378 226.5v7M282 247v7M338 247v7M342.5 247v7M361.5 247v7M377 257.5v7M312.5 269v7M344 268.5v7M422.5 268.5v7M193.5 278v7M211.5 278.5v7M228.5 278v7M241 278.5v7M218.5 284v7M125.5 283v7M122.5 287v7M137 283.5v7M142.5 283.5v7M105.5 291v7M130 292v7M130.5 296v7M153.5 302.5v7M167.5 295.5v7M171.5 300.5v7M174 303.5v7M186 298v7M186.5 303v7M194.5 300v7M196 303.5v7M220 294.5v7M233 294.5v7M216.5 303.5v7M228.5 303v7M238 303.5v7M187.5 311v7M207 311v7M157 324v7M177 324v7M201 322v7M261 322v7M257 324.5v7M268 324.5v7M256 331v7M167 333.5v7M189 330.5v7M202.5 333.5v7M140.5 341v7M153.5 337.5v7M195.5 340.5v7M184.5 344.5v7M187.5 344v7M191.5 344v7M228 344v7M227 346.5v7M232.5 347v7M246 347v7M255.5 345.5v7M258 348.5v7M149.5 347.5v7M153.5 347.5v7M166 347.5v7M164.5 352v7M121 356.5v7M121 360v7M141 360v7M164.5 360.5v7M172.5 359v7M195.5 357v7M206.5 357v7M208 360.5v7M199.5 364v7M213.5 364.5v7M170 365.5v7M227 365.5v7M232.5 365.5v7M249.5 365.5v7M264.5 360v7M123.5 372.5v7M110 380.5v7M159 373v7M220.5 372.5v7M216.5 378v7M226 378v7M232.5 378v7M243 381v7M247.5 379.5v7M258 372v7M267 379v7M164.5 384.5v7M170 384v7M181 384v7M201.5 382.5v7M201 396.5v7M177 401v7M188.5 401v7M190.5 401.5v7M231.5 401v7M236.5 401v7M252 401v7M291 284.5v7M296.5 284.5v7M364 281.5v7M372.5 286.5v7M375.5 288.5v7M393 289v7M405 286.5v7M409 286.5v7M414.5 286.5v7M434 285.5v7M290 293v7M308 293.5v7M322.5 294.5v7M327 294.5v7M351 294.5v7M354.5 294.5v7M410.5 294.5v7M289.5 303.5v7M303 303.5v7M309.5 300.5v7M324.5 307.5v7M328 299.5v7M337 309v7M371.5 301.5v7M363 307v7M391.5 301.5v7M341.5 315v7M356.5 313v7M373.5 313v7M383.5 313v7M426 313v7M327.5 319.5v7M270.5 322v7M294 326.5v7M362 330v7M412 324v7M402.5 330v7M358.5 335v7M372.5 334v7M376.5 333.5v7M386 335v7M276.5 345v7M291 345v7M315.5 344v7M317 343v7M324.5 344v7M328 347v7M360 342.5v7M363 345v7M368.5 341.5v7M386.5 345v7M395.5 343v7M398 340v7M408 340v7M408 345v7M413 345v7M430 345.5v7M437 355v7M295.5 356.5v7M330.5 356.5v7M350.5 360.5v7M356 358v7M331.5 364v7M365.5 364v7M370 363v7M377 363v7M379.5 365.5v7M386 355v7M386.5 363v7M388.5 365.5v7M394.5 356v7M397 365.5v7M405 363v7M419 361.5v7M272 372.5v7M287.5 372.5v7M273 380v7M273.5 382.5v7M307.5 377.5v7M315.5 382.5v7M328 376.5v7M333 386v7M338 386v7M352.5 377v7M363 377v7M374 377v7M378 382.5v7M388.5 382.5v7M386.5 386v7M395 373.5v7M409 373v7M411 377.5v7M406.5 382.5v7M420.5 382.5v7M431 382.5v7M437.5 377.5v7M373.5 388v7M390 394.5v7M408 391.5v7M412 387.5v7M421.5 394v7M327.5 397v7M326.5 401v7M324.5 401.5v7M338.5 400v7M342.5 400v7M360 398.5v7M367.5 400v7M385 401v7M409.5 400v7M274.5 401.5v7M292.5 401.5v7M173 411.5v7M190.5 411.5v7M209 412.5v7M226.5 411.5v7M156 417v7M158 421v7M160.5 421v7M182.5 417v7M195.5 417v7M234 416.5v7M257 419.5v7M258.5 422v7M265 415v7M263.5 411v7M198.5 428v7M208 428v7M248.5 428v7M180 433.5v7M193 433.5v7M214 434v7M199.5 442.5v7M115 447v7M125 447v7M223 447.5v7M235 448v7M263.5 448v7M266.5 448.5v7M126.5 456v7M181 452v7M181 456.5v7M197 456v7M210.5 455.5v7M232.5 454v7M241 455v7M255.5 460v7M259.5 463.5v7M107 465v7M111.5 468v7M138 466v7M143 460.5v7M143 465.5v7M146.5 465.5v7M148 470v7M158 469v7M183 470v7M236.5 469.5v7M243 469.5v7M258 468.5v7M206.5 482v7M239.5 486.5v7M246.5 487.5v7M266.5 487.5v7M142.5 492v7M160 492v7M189.5 499v7M250.5 497.5v7M264 497v7M230.5 498.5v7M116.5 505v7M146 508v7M161.5 508v7M202.5 510.5v7M206.5 508v7M209.5 509v7M114.5 515.5v7M130.5 518v7M134.5 518v7M161 518v7M182 516v7M178 518v7M137 529.5v7M177 527v7M175 530v7M187.5 529.5v7M210.5 529.5v7M212.5 529.5v7M233.5 505.5v7M241 515v7M250.5 521.5v7M260 513.5v7M265 524.5v7M228.5 524.5v7" stroke="#aeaeae" stroke-width="2" fill="none"/>
<text x="548" y="26.5" font-size="21.33" text-anchor="middle" textLength="504" lengthAdjust="spacingAndGlyphs">ICESaturn 1984Earth Moda-16 13-o-Pavlov Moda23</text>
<text x="546.5" y="41" font-size="17.33" text-anchor="middle" textLength="521" lengthAdjust="spacingAndGlyphs">(Sample % Moda23 to 1984Earth/100K 13-O-Pavlov Moda-2399)</text>
<text x="14" y="58" font-size="15" text-anchor="start" textLength="118" lengthAdjust="spacingAndGlyphs">Sample % of Total</text>
<text x="533" y="813.5" font-size="15" text-anchor="middle" textLength="148" lengthAdjust="spacingAndGlyphs">Samples/100K Sample</text>
<text x="88.5" y="739.1" font-size="16.9" text-anchor="end">0.0%</text>
<text x="88.5" y="674.0" font-size="16.9" text-anchor="end">10.0%</text>
<text x="88.5" y="608.9" font-size="16.9" text-anchor="end">20.0%</text>
<text x="88.5" y="543.8000000000001" font-size="16.9" text-anchor="end">30.0%</text>
<text x="88.5" y="478.7" font-size="16.9" text-anchor="end">40.0%</text>
<text x="88.5" y="413.6" font-size="16.9" text-anchor="end">50.0%</text>
<text x="88.5" y="348.50000000000006" font-size="16.9" text-anchor="end">60.0%</text>
<text x="88.5" y="283.40000000000003" font-size="16.9" text-anchor="end">70.0%</text>
<text x="88.5" y="218.29999999999993" font-size="16.9" text-anchor="end">80.0%</text>
<text x="88.5" y="153.20000000000002" font-size="16.9" text-anchor="end">90.0%</text>
<text x="88.5" y="88.1" font-size="16.9" text-anchor="end">100.0%</text>
<text x="99.5" y="761" font-size="16.4" text-anchor="middle">1.0</text>
<text x="269.5" y="761" font-size="16.4" text-anchor="middle">10.0</text>
<text x="438.5" y="761" font-size="16.4" text-anchor="middle">100.0</text>
<text x="607.5" y="761" font-size="16.4" text-anchor="middle">1000.0</text>
<text x="776.5" y="761" font-size="16.4" text-anchor="middle">10000.0</text>
<text x="945.5" y="761" font-size="16.4" text-anchor="middle">100000.0</text>
<path d="M317.3 83.5L321 126.5" stroke="#000" stroke-width="1" fill="none"/>
<path d="M417.5 90V108" stroke="#000" stroke-width="1" fill="none"/>
<path d="M438 287L444.5 307" stroke="#000" stroke-width="1" fill="none"/>
<path d="M427.5 468V478" stroke="#000" stroke-width="1" fill="none"/>
<path d="M322 75.5H1078" stroke="#2f63ad" stroke-width="1" fill="none"/>
<path d="M322 91.5H1078" stroke="#1d57a3" stroke-width="1" stroke-dasharray="2 0.8" fill="none"/>
<rect x="130.5" y="76" width="91" height="15.5" fill="none" stroke="#1d57a3" stroke-width="1" stroke-dasharray="1 0.8"/>
<text x="130.5" y="87" font-size="13.1" text-anchor="start" textLength="86" lengthAdjust="spacingAndGlyphs">HOM-DV WI22</text>
<text x="134.5" y="87" font-size="13.1" text-anchor="start" textLength="86" lengthAdjust="spacingAndGlyphs">HOM-DV WI21</text>
<rect x="231.5" y="76" width="88" height="15.5" fill="none" stroke="#1d57a3" stroke-width="1" stroke-dasharray="1 0.8"/>
<text x="231.5" y="87" font-size="13.1" text-anchor="start" textLength="87" lengthAdjust="spacingAndGlyphs">WI-HOM 2022</text>
<text x="265.5" y="87" font-size="13.1" text-anchor="start" textLength="67" lengthAdjust="spacingAndGlyphs">HOM 2022</text>
<text x="268.5" y="87" font-size="13.1" text-anchor="start" textLength="67" lengthAdjust="spacingAndGlyphs">HOM 2021</text>
<text x="315.5" y="87" font-size="13.1" text-anchor="start" textLength="89" lengthAdjust="spacingAndGlyphs">MI-SUIC WI23</text>
<text x="331.5" y="87" font-size="13.1" text-anchor="start" textLength="71" lengthAdjust="spacingAndGlyphs">SUIC WI22</text>
<text x="347.5" y="87" font-size="13.1" text-anchor="start" textLength="226" lengthAdjust="spacingAndGlyphs">Pb3.5-under6 Milwaukee WI22 (Est.)</text>
<text x="357.5" y="87" font-size="13.1" text-anchor="start" textLength="153" lengthAdjust="spacingAndGlyphs">OD-Fentanyl MilCo, WI23</text>
<text x="374.5" y="87" font-size="13.1" text-anchor="start" textLength="133" lengthAdjust="spacingAndGlyphs">HOM-Birmingham, AL23</text>
<text x="360.5" y="87" font-size="13.1" text-anchor="start" textLength="179" lengthAdjust="spacingAndGlyphs">Pb3.5-Milwaukee WI22 (Est.)</text>
<text x="379.5" y="87" font-size="13.1" text-anchor="start" textLength="153" lengthAdjust="spacingAndGlyphs">Pb-Leaded Gasoline US75</text>
<text x="383.5" y="87" font-size="13.1" text-anchor="start" textLength="153" lengthAdjust="spacingAndGlyphs">Pb-Leaded Gasoline US75</text>
<text x="377.5" y="87" font-size="13.1" text-anchor="start" textLength="173" lengthAdjust="spacingAndGlyphs">Pb3.5-Child Cleveland OH22</text>
<text x="395.5" y="87" font-size="13.1" text-anchor="start" textLength="146" lengthAdjust="spacingAndGlyphs">Pb5-Child Detroit MI22</text>
<text x="361.5" y="87" font-size="13.1" text-anchor="start" textLength="226" lengthAdjust="spacingAndGlyphs">Pb3.5-under6 Milwaukee WI22 (Est.)</text>
<text x="412.5" y="87" font-size="13.1" text-anchor="start" textLength="133" lengthAdjust="spacingAndGlyphs">Pb5-Flint Child MI15</text>
<text x="395.5" y="87" font-size="13.1" text-anchor="start" textLength="179" lengthAdjust="spacingAndGlyphs">Pb3.5-Milwaukee WI22 (Est.)</text>
<text x="437.5" y="87" font-size="13.1" text-anchor="start" textLength="146" lengthAdjust="spacingAndGlyphs">HOM-Jefferson Co, AL24</text>
<text x="455.5" y="87" font-size="13.1" text-anchor="start" textLength="146" lengthAdjust="spacingAndGlyphs">HOM-Jefferson Co, AL24</text>
<text x="495.5" y="87" font-size="13.1" text-anchor="start" textLength="126" lengthAdjust="spacingAndGlyphs">Pb-Roman Empire 100</text>
<text x="499.5" y="87" font-size="13.1" text-anchor="start" textLength="146" lengthAdjust="spacingAndGlyphs">OD-Opioids MilCo, WI22</text>
<text x="539.5" y="87" font-size="13.1" text-anchor="start" textLength="126" lengthAdjust="spacingAndGlyphs">HOM-Milwaukee, WI22</text>
<text x="557.5" y="87" font-size="13.1" text-anchor="start" textLength="119" lengthAdjust="spacingAndGlyphs">Pb-Child Nigeria22</text>
<text x="566.5" y="87" font-size="13.1" text-anchor="start" textLength="153" lengthAdjust="spacingAndGlyphs">Pb-Leaded Gasoline US75</text>
<text x="602.5" y="87" font-size="13.1" text-anchor="start" textLength="133" lengthAdjust="spacingAndGlyphs">Pb5-Flint Child MI15</text>
<text x="631.5" y="87" font-size="13.1" text-anchor="start" textLength="126" lengthAdjust="spacingAndGlyphs">Pb-Roman Empire 100</text>
<text x="635.5" y="87" font-size="13.1" text-anchor="start" textLength="179" lengthAdjust="spacingAndGlyphs">Pb3.5-Milwaukee WI22 (Est.)</text>
<text x="640.5" y="87" font-size="13.1" text-anchor="start" textLength="173" lengthAdjust="spacingAndGlyphs">Pb3.5-Child Cleveland OH22</text>
<text x="654.5" y="87" font-size="13.1" text-anchor="start" textLength="146" lengthAdjust="spacingAndGlyphs">OD-Opioids MilCo, WI22</text>
<text x="656.5" y="87" font-size="13.1" text-anchor="start" textLength="146" lengthAdjust="spacingAndGlyphs">HOM-Jefferson Co, AL24</text>
<text x="674.5" y="87" font-size="13.1" text-anchor="start" textLength="119" lengthAdjust="spacingAndGlyphs">Pb-Child Nigeria22</text>
<text x="677.5" y="87" font-size="13.1" text-anchor="start" textLength="119" lengthAdjust="spacingAndGlyphs">Pb-Child Nigeria22</text>
<text x="662.5" y="87" font-size="13.1" text-anchor="start" textLength="153" lengthAdjust="spacingAndGlyphs">OD-Fentanyl MilCo, WI23</text>
<text x="628.5" y="87" font-size="13.1" text-anchor="start" textLength="226" lengthAdjust="spacingAndGlyphs">Pb3.5-under6 Milwaukee WI22 (Est.)</text>
<text x="659.5" y="87" font-size="13.1" text-anchor="start" textLength="173" lengthAdjust="spacingAndGlyphs">Pb3.5-Child Cleveland OH22</text>
<text x="671.5" y="87" font-size="13.1" text-anchor="start" textLength="153" lengthAdjust="spacingAndGlyphs">Pb-Leaded Gasoline US75</text>
<text x="683.5" y="87" font-size="13.1" text-anchor="start" textLength="133" lengthAdjust="spacingAndGlyphs">Pb5-Flint Child MI15</text>
<text x="666.5" y="87" font-size="13.1" text-anchor="start" textLength="173" lengthAdjust="spacingAndGlyphs">Pb3.5-Child Cleveland OH22</text>
<text x="687.5" y="87" font-size="13.1" text-anchor="start" textLength="133" lengthAdjust="spacingAndGlyphs">Pb5-Flint Child MI15</text>
<text x="698.5" y="87" font-size="13.1" text-anchor="start" textLength="119" lengthAdjust="spacingAndGlyphs">Pb-Child Nigeria22</text>
<text x="686.5" y="87" font-size="13.1" text-anchor="start" textLength="146" lengthAdjust="spacingAndGlyphs">Pb5-Child Detroit MI22</text>
<text x="703.5" y="87" font-size="13.1" text-anchor="start" textLength="119" lengthAdjust="spacingAndGlyphs">Pb-Child Nigeria22</text>
<text x="679.5" y="87" font-size="13.1" text-anchor="start" textLength="173" lengthAdjust="spacingAndGlyphs">SUIC-White Milwaukee, WI23</text>
<text x="703.5" y="87" font-size="13.1" text-anchor="start" textLength="126" lengthAdjust="spacingAndGlyphs">Pb-Roman Empire 100</text>
<text x="694.5" y="87" font-size="13.1" text-anchor="start" textLength="146" lengthAdjust="spacingAndGlyphs">Pb5-Child Detroit MI22</text>
<path d="M711.5 75.5v16" stroke="#1d57a3" stroke-width="1" stroke-dasharray="1 0.8" fill="none"/>
<text x="711.5" y="87" font-size="13.1" text-anchor="start" textLength="119" lengthAdjust="spacingAndGlyphs">Pb-Child Nigeria22</text>
<text x="697.5" y="87" font-size="13.1" text-anchor="start" textLength="153" lengthAdjust="spacingAndGlyphs">Pb-Leaded Gasoline US75</text>
<text x="710.5" y="87" font-size="13.1" text-anchor="start" textLength="133" lengthAdjust="spacingAndGlyphs">Pb5-Flint Child MI15</text>
<text x="693.5" y="87" font-size="13.1" text-anchor="start" textLength="173" lengthAdjust="spacingAndGlyphs">Pb3.5-Child Cleveland OH22</text>
<text x="705.5" y="87" font-size="13.1" text-anchor="start" textLength="153" lengthAdjust="spacingAndGlyphs">OD-Fentanyl MilCo, WI23</text>
<path d="M709.5 75.5v16" stroke="#1d57a3" stroke-width="1" stroke-dasharray="1 0.8" fill="none"/>
<text x="709.5" y="87" font-size="13.1" text-anchor="start" textLength="146" lengthAdjust="spacingAndGlyphs">Pb5-Child Detroit MI22</text>
<text x="707.5" y="87" font-size="13.1" text-anchor="start" textLength="153" lengthAdjust="spacingAndGlyphs">Pb-Leaded Gasoline US75</text>
<text x="722.5" y="87" font-size="13.1" text-anchor="start" textLength="126" lengthAdjust="spacingAndGlyphs">Pb-Roman Empire 100</text>
<text x="714.5" y="87" font-size="13.1" text-anchor="start" textLength="146" lengthAdjust="spacingAndGlyphs">OD-Opioids MilCo, WI22</text>
<text x="723.5" y="87" font-size="13.1" text-anchor="start" textLength="133" lengthAdjust="spacingAndGlyphs">HOM-Birmingham, AL23</text>
<text x="705.5" y="87" font-size="13.1" text-anchor="start" textLength="173" lengthAdjust="spacingAndGlyphs">Pb3.5-Child Cleveland OH22</text>
<text x="705.5" y="87" font-size="13.1" text-anchor="start" textLength="179" lengthAdjust="spacingAndGlyphs">Pb3.5-Milwaukee WI22 (Est.)</text>
<text x="724.5" y="87" font-size="13.1" text-anchor="start" textLength="146" lengthAdjust="spacingAndGlyphs">HOM-Jefferson Co, AL24</text>
<path d="M725.5 75.5v16" stroke="#1d57a3" stroke-width="1" stroke-dasharray="1 0.8" fill="none"/>
<text x="725.5" y="87" font-size="13.1" text-anchor="start" textLength="153" lengthAdjust="spacingAndGlyphs">OD-Fentanyl MilCo, WI23</text>
<text x="731.5" y="87" font-size="13.1" text-anchor="start" textLength="146" lengthAdjust="spacingAndGlyphs">Pb5-Child Detroit MI22</text>
<text x="742.5" y="87" font-size="13.1" text-anchor="start" textLength="133" lengthAdjust="spacingAndGlyphs">Pb5-Flint Child MI15</text>
<text x="747.5" y="87" font-size="13.1" text-anchor="start" textLength="126" lengthAdjust="spacingAndGlyphs">Pb-Roman Empire 100</text>
<text x="740.5" y="87" font-size="13.1" text-anchor="start" textLength="146" lengthAdjust="spacingAndGlyphs">Pb5-Child Detroit MI22</text>
<text x="738.5" y="87" font-size="13.1" text-anchor="start" textLength="153" lengthAdjust="spacingAndGlyphs">Pb-Medieval England1400</text>
<path d="M751.5 75.5v16" stroke="#1d57a3" stroke-width="1" stroke-dasharray="1 0.8" fill="none"/>
<text x="751.5" y="87" font-size="13.1" text-anchor="start" textLength="133" lengthAdjust="spacingAndGlyphs">HOM-Birmingham, AL23</text>
<text x="744.5" y="87" font-size="13.1" text-anchor="start" textLength="153" lengthAdjust="spacingAndGlyphs">Pb-Leaded Gasoline US75</text>
<text x="748.5" y="87" font-size="13.1" text-anchor="start" textLength="146" lengthAdjust="spacingAndGlyphs">HOM-Jefferson Co, AL24</text>
<text x="758.5" y="87" font-size="13.1" text-anchor="start" textLength="133" lengthAdjust="spacingAndGlyphs">HOM-Birmingham, AL23</text>
<text x="750.5" y="87" font-size="13.1" text-anchor="start" textLength="153" lengthAdjust="spacingAndGlyphs">Pb-Leaded Gasoline US75</text>
<path d="M741.5 75.5v16" stroke="#1d57a3" stroke-width="1" stroke-dasharray="1 0.8" fill="none"/>
<text x="741.5" y="87" font-size="13.1" text-anchor="start" textLength="179" lengthAdjust="spacingAndGlyphs">Pb3.5-Milwaukee WI22 (Est.)</text>
<path d="M758.5 75.5v16" stroke="#1d57a3" stroke-width="1" stroke-dasharray="1 0.8" fill="none"/>
<text x="758.5" y="87" font-size="13.1" text-anchor="start" textLength="146" lengthAdjust="spacingAndGlyphs">HOM-Jefferson Co, AL24</text>
<text x="760.5" y="87" font-size="13.1" text-anchor="start" textLength="146" lengthAdjust="spacingAndGlyphs">Pb5-Child Detroit MI22</text>
<text x="759.5" y="87" font-size="13.1" text-anchor="start" textLength="153" lengthAdjust="spacingAndGlyphs">Pb-Leaded Gasoline US75</text>
<text x="771.5" y="87" font-size="13.1" text-anchor="start" textLength="133" lengthAdjust="spacingAndGlyphs">HOM-Birmingham, AL23</text>
<text x="780.5" y="87" font-size="13.1" text-anchor="start" textLength="119" lengthAdjust="spacingAndGlyphs">Pb-Child Nigeria22</text>
<text x="765.5" y="87" font-size="13.1" text-anchor="start" textLength="153" lengthAdjust="spacingAndGlyphs">Pb-Medieval England1400</text>
<text x="766.5" y="87" font-size="13.1" text-anchor="start" textLength="153" lengthAdjust="spacingAndGlyphs">Pb-Leaded Gasoline US75</text>
<text x="771.5" y="87" font-size="13.1" text-anchor="start" textLength="146" lengthAdjust="spacingAndGlyphs">Pb5-Child Detroit MI22</text>
<text x="772.5" y="87" font-size="13.1" text-anchor="start" textLength="153" lengthAdjust="spacingAndGlyphs">Pb-Medieval England1400</text>
<text x="777.5" y="87" font-size="13.1" text-anchor="start" textLength="146" lengthAdjust="spacingAndGlyphs">OD-Opioids MilCo, WI22</text>
<path d="M788.5 75.5v16" stroke="#1d57a3" stroke-width="1" stroke-dasharray="1 0.8" fill="none"/>
<text x="788.5" y="87" font-size="13.1" text-anchor="start" textLength="133" lengthAdjust="spacingAndGlyphs">Pb5-Flint Child MI15</text>
<text x="791.5" y="87" font-size="13.1" text-anchor="start" textLength="133" lengthAdjust="spacingAndGlyphs">HOM-Birmingham, AL23</text>
<text x="802.5" y="87" font-size="13.1" text-anchor="start" textLength="119" lengthAdjust="spacingAndGlyphs">Pb-Child Nigeria22</text>
<text x="777.5" y="87" font-size="13.1" text-anchor="start" textLength="173" lengthAdjust="spacingAndGlyphs">SUIC-White Milwaukee, WI23</text>
<text x="754.5" y="87" font-size="13.1" text-anchor="start" textLength="226" lengthAdjust="spacingAndGlyphs">Pb3.5-under6 Milwaukee WI22 (Est.)</text>
<text x="797.5" y="87" font-size="13.1" text-anchor="start" textLength="146" lengthAdjust="spacingAndGlyphs">Pb5-Child Detroit MI22</text>
<text x="808.5" y="87" font-size="13.1" text-anchor="start" textLength="126" lengthAdjust="spacingAndGlyphs">HOM-Milwaukee, WI22</text>
<text x="807.5" y="87" font-size="13.1" text-anchor="start" textLength="133" lengthAdjust="spacingAndGlyphs">HOM-Birmingham, AL23</text>
<text x="803.5" y="87" font-size="13.1" text-anchor="start" textLength="146" lengthAdjust="spacingAndGlyphs">OD-Opioids MilCo, WI22</text>
<text x="802.5" y="87" font-size="13.1" text-anchor="start" textLength="153" lengthAdjust="spacingAndGlyphs">Pb-Medieval England1400</text>
<text x="803.5" y="87" font-size="13.1" text-anchor="start" textLength="153" lengthAdjust="spacingAndGlyphs">Pb-Medieval England1400</text>
<text x="809.5" y="87" font-size="13.1" text-anchor="start" textLength="146" lengthAdjust="spacingAndGlyphs">OD-Opioids MilCo, WI22</text>
<text x="809.5" y="87" font-size="13.1" text-anchor="start" textLength="153" lengthAdjust="spacingAndGlyphs">Pb-Medieval England1400</text>
<text x="822.5" y="87" font-size="13.1" text-anchor="start" textLength="133" lengthAdjust="spacingAndGlyphs">HOM-Birmingham, AL23</text>
<text x="827.5" y="87" font-size="13.1" text-anchor="start" textLength="126" lengthAdjust="spacingAndGlyphs">Pb-Roman Empire 100</text>
<text x="805.5" y="87" font-size="13.1" text-anchor="start" textLength="173" lengthAdjust="spacingAndGlyphs">Pb3.5-Child Cleveland OH22</text>
<text x="830.5" y="87" font-size="13.1" text-anchor="start" textLength="126" lengthAdjust="spacingAndGlyphs">HOM-Milwaukee, WI22</text>
<text x="820.5" y="87" font-size="13.1" text-anchor="start" textLength="153" lengthAdjust="spacingAndGlyphs">OD-Fentanyl MilCo, WI23</text>
<path d="M787.5 75.5v16" stroke="#1d57a3" stroke-width="1" stroke-dasharray="1 0.8" fill="none"/>
<text x="787.5" y="87" font-size="13.1" text-anchor="start" textLength="226" lengthAdjust="spacingAndGlyphs">Pb3.5-under6 Milwaukee WI22 (Est.)</text>
<text x="844.5" y="87" font-size="13.1" text-anchor="start" textLength="119" lengthAdjust="spacingAndGlyphs">Pb-Child Nigeria22</text>
<text x="831.5" y="87" font-size="13.1" text-anchor="start" textLength="153" lengthAdjust="spacingAndGlyphs">OD-Fentanyl MilCo, WI23</text>
<text x="844.5" y="87" font-size="13.1" text-anchor="start" textLength="133" lengthAdjust="spacingAndGlyphs">HOM-Birmingham, AL23</text>
<text x="852.5" y="87" font-size="13.1" text-anchor="start" textLength="119" lengthAdjust="spacingAndGlyphs">Pb-Child Nigeria22</text>
<text x="827.5" y="87" font-size="13.1" text-anchor="start" textLength="173" lengthAdjust="spacingAndGlyphs">SUIC-White Milwaukee, WI23</text>
<text x="851.5" y="87" font-size="13.1" text-anchor="start" textLength="126" lengthAdjust="spacingAndGlyphs">HOM-Milwaukee, WI22</text>
<text x="842.5" y="87" font-size="13.1" text-anchor="start" textLength="153" lengthAdjust="spacingAndGlyphs">OD-Fentanyl MilCo, WI23</text>
<path d="M845.5 75.5v16" stroke="#1d57a3" stroke-width="1" stroke-dasharray="1 0.8" fill="none"/>
<text x="845.5" y="87" font-size="13.1" text-anchor="start" textLength="153" lengthAdjust="spacingAndGlyphs">Pb-Leaded Gasoline US75</text>
<text x="858.5" y="87" font-size="13.1" text-anchor="start" textLength="133" lengthAdjust="spacingAndGlyphs">Pb5-Flint Child MI15</text>
<text x="854.5" y="87" font-size="13.1" text-anchor="start" textLength="146" lengthAdjust="spacingAndGlyphs">Pb5-Child Detroit MI22</text>
<text x="852.5" y="87" font-size="13.1" text-anchor="start" textLength="153" lengthAdjust="spacingAndGlyphs">OD-Fentanyl MilCo, WI23</text>
<text x="843.5" y="87" font-size="13.1" text-anchor="start" textLength="173" lengthAdjust="spacingAndGlyphs">Pb3.5-Child Cleveland OH22</text>
<text x="858.5" y="87" font-size="13.1" text-anchor="start" textLength="146" lengthAdjust="spacingAndGlyphs">OD-Opioids MilCo, WI22</text>
<text x="845.5" y="87" font-size="13.1" text-anchor="start" textLength="179" lengthAdjust="spacingAndGlyphs">Pb3.5-Milwaukee WI22 (Est.)</text>
<text x="869.5" y="87" font-size="13.1" text-anchor="start" textLength="133" lengthAdjust="spacingAndGlyphs">HOM-Birmingham, AL23</text>
<text x="860.5" y="87" font-size="13.1" text-anchor="start" textLength="153" lengthAdjust="spacingAndGlyphs">OD-Fentanyl MilCo, WI23</text>
<text x="864.5" y="87" font-size="13.1" text-anchor="start" textLength="146" lengthAdjust="spacingAndGlyphs">OD-Opioids MilCo, WI22</text>
<text x="853.5" y="87" font-size="13.1" text-anchor="start" textLength="173" lengthAdjust="spacingAndGlyphs">Pb3.5-Child Cleveland OH22</text>
<text x="882.5" y="87" font-size="13.1" text-anchor="start" textLength="119" lengthAdjust="spacingAndGlyphs">Pb-Child Nigeria22</text>
<text x="871.5" y="87" font-size="13.1" text-anchor="start" textLength="146" lengthAdjust="spacingAndGlyphs">HOM-Jefferson Co, AL24</text>
<text x="808.5" y="87" font-size="13.1" text-anchor="start" textLength="270" lengthAdjust="spacingAndGlyphs">Pb3.5-under5 Milwaukee WI22 (Est.) M5/I2</text>
<text x="812.5" y="87" font-size="13.1" text-anchor="start" textLength="268" lengthAdjust="spacingAndGlyphs">Pb3.5-under6 Cleveland OH22 (Est.) M4/I6</text>
<text x="850.5" y="87" font-size="13.1" text-anchor="start" textLength="189" lengthAdjust="spacingAndGlyphs">Pb5-Child Detroit MI22 (Est.)</text>
<text x="870.5" y="87" font-size="13.1" text-anchor="start" textLength="159" lengthAdjust="spacingAndGlyphs">Pb5-Child Flint MI15 (Est.)</text>
<rect x="722.5" y="79" width="225" height="15.5" fill="none" stroke="#1d57a3" stroke-width="1" stroke-dasharray="1 0.8"/>
<text x="722.5" y="90" font-size="13.1" text-anchor="start" textLength="224" lengthAdjust="spacingAndGlyphs">Pb3.5-under6 Milwaukee WI22 (Est.)</text>
<rect x="425.5" y="61" width="94" height="15.5" fill="none" stroke="#1d57a3" stroke-width="1" stroke-dasharray="1 0.8"/>
<text x="425.5" y="73" font-size="13.1" text-anchor="start" textLength="93" lengthAdjust="spacingAndGlyphs">Pb-RIP Earth18</text>
<rect x="457.5" y="61" width="124" height="15.5" fill="none" stroke="#1d57a3" stroke-width="1" stroke-dasharray="1 0.8"/>
<text x="457.5" y="73" font-size="13.1" text-anchor="start" textLength="123" lengthAdjust="spacingAndGlyphs">Pb-Earth-RIP Earth19</text>
<rect x="869.5" y="56" width="213" height="15.5" fill="none" stroke="#1d57a3" stroke-width="1" stroke-dasharray="1 0.8"/>
<text x="869.5" y="68" font-size="13.1" text-anchor="start" textLength="212" lengthAdjust="spacingAndGlyphs">Pb3.5-under5 Milwaukee WI23 (Est.)</text>
<rect x="357.5" y="90" width="133" height="15.5" fill="none" stroke="#1d57a3" stroke-width="1" stroke-dasharray="1 0.8"/>
<text x="357.5" y="102" font-size="13.1" text-anchor="start" textLength="132" lengthAdjust="spacingAndGlyphs">HOM-Milwaukee, WI23</text>
<rect x="411.5" y="109" width="142" height="15.5" fill="none" stroke="#1d57a3" stroke-width="1" stroke-dasharray="1 0.8"/>
<text x="411.5" y="121" font-size="13.1" text-anchor="start" textLength="141" lengthAdjust="spacingAndGlyphs">HOM-Birmingham, AL24</text>
<rect x="320.5" y="127" width="134" height="15.5" fill="none" stroke="#1d57a3" stroke-width="1" stroke-dasharray="1 0.8"/>
<text x="320.5" y="139" font-size="13.1" text-anchor="start" textLength="133" lengthAdjust="spacingAndGlyphs">HOM-Milwaukee, WI24</text>
<rect x="903.5" y="94" width="90" height="15.5" fill="none" stroke="#1d57a3" stroke-width="1" stroke-dasharray="1 0.8"/>
<text x="903.5" y="106" font-size="13.1" text-anchor="start" textLength="89" lengthAdjust="spacingAndGlyphs">Pb-Nazis US24</text>
<rect x="367.5" y="206" width="159" height="15.5" fill="none" stroke="#1d57a3" stroke-width="1" stroke-dasharray="1 0.8"/>
<text x="367.5" y="218" font-size="13.1" text-anchor="start" textLength="158" lengthAdjust="spacingAndGlyphs">HOM-18+ Milwaukee, WI23</text>
<rect x="331.5" y="215" width="159" height="15.5" fill="none" stroke="#1d57a3" stroke-width="1" stroke-dasharray="1 0.8"/>
<text x="331.5" y="227" font-size="13.1" text-anchor="start" textLength="158" lengthAdjust="spacingAndGlyphs">HOM-18+ Milwaukee, WI24</text>
<rect x="650.5" y="205" width="148" height="15.5" fill="none" stroke="#1d57a3" stroke-width="1" stroke-dasharray="1 0.8"/>
<text x="650.5" y="217" font-size="13.1" text-anchor="start" textLength="147" lengthAdjust="spacingAndGlyphs">Pb3.5-White-under6 WI22</text>
<rect x="954.5" y="245" width="199" height="15.5" fill="none" stroke="#1d57a3" stroke-width="1" stroke-dasharray="1 0.8"/>
<text x="954.5" y="257" font-size="13.1" text-anchor="start" textLength="198" lengthAdjust="spacingAndGlyphs">Pb-Urban-Medieval-Germany1500</text>
<rect x="865.5" y="259" width="191" height="15.5" fill="none" stroke="#1d57a3" stroke-width="1" stroke-dasharray="1 0.8"/>
<text x="865.5" y="271" font-size="13.1" text-anchor="start" textLength="190" lengthAdjust="spacingAndGlyphs">Pb-Rural-Medieval-Germany1500</text>
<rect x="552.5" y="268" width="229" height="15.5" fill="none" stroke="#1d57a3" stroke-width="1" stroke-dasharray="1 0.8"/>
<text x="552.5" y="280" font-size="13.1" text-anchor="start" textLength="228" lengthAdjust="spacingAndGlyphs">POLICE-OFFICERS-Birmingham, AL23</text>
<rect x="572.5" y="282" width="198" height="15.5" fill="none" stroke="#1d57a3" stroke-width="1" stroke-dasharray="1 0.8"/>
<text x="572.5" y="294" font-size="13.1" text-anchor="start" textLength="197" lengthAdjust="spacingAndGlyphs">POLICE-DEPT-Birmingham, AL23</text>
<rect x="413.5" y="296" width="261" height="15.5" fill="none" stroke="#1d57a3" stroke-width="1" stroke-dasharray="1 0.8"/>
<text x="413.5" y="308" font-size="13.1" text-anchor="start" textLength="260" lengthAdjust="spacingAndGlyphs">MURDER-CHARGEABLE-Birmingham, AL23</text>
<rect x="443.5" y="310" width="178" height="15.5" fill="none" stroke="#1d57a3" stroke-width="1" stroke-dasharray="1 0.8"/>
<text x="443.5" y="322" font-size="13.1" text-anchor="start" textLength="177" lengthAdjust="spacingAndGlyphs">HOM-Black Birmingham, AL24</text>
<rect x="767.5" y="341" width="136" height="15.5" fill="none" stroke="#1d57a3" stroke-width="1" stroke-dasharray="1 0.8"/>
<text x="767.5" y="353" font-size="13.1" text-anchor="start" textLength="135" lengthAdjust="spacingAndGlyphs">Pb2-White Child5 US23</text>
<rect x="418.5" y="407" width="180" height="15.5" fill="none" stroke="#1d57a3" stroke-width="1" stroke-dasharray="1 0.8"/>
<text x="418.5" y="419" font-size="13.1" text-anchor="start" textLength="179" lengthAdjust="spacingAndGlyphs">OD-Opioids White MilCo, WI22</text>
<rect x="429.5" y="446" width="169" height="15.5" fill="none" stroke="#1d57a3" stroke-width="1" stroke-dasharray="1 0.8"/>
<text x="429.5" y="458" font-size="13.1" text-anchor="start" textLength="168" lengthAdjust="spacingAndGlyphs">HOM-Black Milwaukee, WI22</text>
<rect x="412.5" y="460" width="170" height="15.5" fill="none" stroke="#1d57a3" stroke-width="1" stroke-dasharray="1 0.8"/>
<text x="412.5" y="472" font-size="13.1" text-anchor="start" textLength="169" lengthAdjust="spacingAndGlyphs">HOM-Black Milwaukee, WI23</text>
<rect x="376.5" y="474" width="169" height="15.5" fill="none" stroke="#1d57a3" stroke-width="1" stroke-dasharray="1 0.8"/>
<text x="376.5" y="486" font-size="13.1" text-anchor="start" textLength="168" lengthAdjust="spacingAndGlyphs">HOM-Black Milwaukee, WI24</text>
<rect x="354.5" y="487" width="190" height="15.5" fill="none" stroke="#1d57a3" stroke-width="1" stroke-dasharray="1 0.8"/>
<text x="354.5" y="499" font-size="13.1" text-anchor="start" textLength="189" lengthAdjust="spacingAndGlyphs">HOM-Black-F Birmingham, AL24</text>
<rect x="267.5" y="496" width="169" height="15.5" fill="none" stroke="#1d57a3" stroke-width="1" stroke-dasharray="1 0.8"/>
<text x="267.5" y="508" font-size="13.1" text-anchor="start" textLength="168" lengthAdjust="spacingAndGlyphs">HOM-White Milwaukee, WI23</text>
<rect x="231.5" y="505" width="170" height="15.5" fill="none" stroke="#1d57a3" stroke-width="1" stroke-dasharray="1 0.8"/>
<text x="231.5" y="517" font-size="13.1" text-anchor="start" textLength="169" lengthAdjust="spacingAndGlyphs">HOM-White Milwaukee, WI24</text>
<rect x="217.5" y="518" width="170" height="15.5" fill="none" stroke="#1d57a3" stroke-width="1" stroke-dasharray="1 0.8"/>
<text x="217.5" y="530" font-size="13.1" text-anchor="start" textLength="169" lengthAdjust="spacingAndGlyphs">HOM-White Milwaukee, WI22</text>
<rect x="488.5" y="503" width="193" height="15.5" fill="none" stroke="#1d57a3" stroke-width="1" stroke-dasharray="1 0.8"/>
<text x="488.5" y="515" font-size="13.1" text-anchor="start" textLength="192" lengthAdjust="spacingAndGlyphs">HOM-Black-M Birmingham, AL24</text>
<rect x="422.5" y="515" width="192" height="15.5" fill="none" stroke="#1d57a3" stroke-width="1" stroke-dasharray="1 0.8"/>
<text x="422.5" y="527" font-size="13.1" text-anchor="start" textLength="191" lengthAdjust="spacingAndGlyphs">HOM-18+Black Milwaukee, WI23</text>
<rect x="386.5" y="525" width="192" height="15.5" fill="none" stroke="#1d57a3" stroke-width="1" stroke-dasharray="1 0.8"/>
<text x="386.5" y="537" font-size="13.1" text-anchor="start" textLength="191" lengthAdjust="spacingAndGlyphs">HOM-18+Black Milwaukee, WI24</text>
<rect x="284.5" y="535" width="192" height="15.5" fill="none" stroke="#1d57a3" stroke-width="1" stroke-dasharray="1 0.8"/>
<text x="284.5" y="547" font-size="13.1" text-anchor="start" textLength="191" lengthAdjust="spacingAndGlyphs">HOM-18+White Milwaukee, WI24</text>
<rect x="282.5" y="547" width="110" height="15.5" fill="none" stroke="#1d57a3" stroke-width="1" stroke-dasharray="1 0.8"/>
<text x="282.5" y="559" font-size="13.1" text-anchor="start" textLength="109" lengthAdjust="spacingAndGlyphs">OD-MilCo-Mil WI22</text>
<rect x="453.5" y="550" width="179" height="15.5" fill="none" stroke="#1d57a3" stroke-width="1" stroke-dasharray="1 0.8"/>
<text x="453.5" y="562" font-size="13.1" text-anchor="start" textLength="178" lengthAdjust="spacingAndGlyphs">OD-Opioids Black MilCo, WI22</text>
<rect x="320.5" y="559" width="192" height="15.5" fill="none" stroke="#1d57a3" stroke-width="1" stroke-dasharray="1 0.8"/>
<text x="320.5" y="571" font-size="13.1" text-anchor="start" textLength="191" lengthAdjust="spacingAndGlyphs">HOM-18+White Milwaukee, WI23</text>
<rect x="288.5" y="567" width="178" height="15.5" fill="none" stroke="#1d57a3" stroke-width="1" stroke-dasharray="1 0.8"/>
<text x="288.5" y="579" font-size="13.1" text-anchor="start" textLength="177" lengthAdjust="spacingAndGlyphs">HOM-White Birmingham, AL24</text>
<rect x="255.5" y="582" width="155" height="15.5" fill="none" stroke="#1d57a3" stroke-width="1" stroke-dasharray="1 0.8"/>
<text x="255.5" y="594" font-size="13.1" text-anchor="start" textLength="154" lengthAdjust="spacingAndGlyphs">HOM-17- Milwaukee, WI24</text>
<rect x="291.5" y="587" width="155" height="15.5" fill="none" stroke="#1d57a3" stroke-width="1" stroke-dasharray="1 0.8"/>
<text x="291.5" y="599" font-size="13.1" text-anchor="start" textLength="154" lengthAdjust="spacingAndGlyphs">HOM-17- Milwaukee, WI23</text>
<rect x="282.5" y="599" width="187" height="15.5" fill="none" stroke="#1d57a3" stroke-width="1" stroke-dasharray="1 0.8"/>
<text x="282.5" y="611" font-size="13.1" text-anchor="start" textLength="186" lengthAdjust="spacingAndGlyphs">HOM-Hispanic Milwaukee, WI23</text>
<rect x="299.5" y="599" width="187" height="15.5" fill="none" stroke="#1d57a3" stroke-width="1" stroke-dasharray="1 0.8"/>
<text x="299.5" y="611" font-size="13.1" text-anchor="start" textLength="186" lengthAdjust="spacingAndGlyphs">HOM-Hispanic Milwaukee, WI22</text>
<rect x="246.5" y="610" width="187" height="15.5" fill="none" stroke="#1d57a3" stroke-width="1" stroke-dasharray="1 0.8"/>
<text x="246.5" y="622" font-size="13.1" text-anchor="start" textLength="186" lengthAdjust="spacingAndGlyphs">HOM-Hispanic Milwaukee, WI24</text>
<rect x="400.5" y="619" width="196" height="15.5" fill="none" stroke="#1d57a3" stroke-width="1" stroke-dasharray="1 0.8"/>
<text x="400.5" y="631" font-size="13.1" text-anchor="start" textLength="195" lengthAdjust="spacingAndGlyphs">OD-Opioids Hispanic MilCo, WI22</text>
<rect x="221.5" y="633" width="190" height="15.5" fill="none" stroke="#1d57a3" stroke-width="1" stroke-dasharray="1 0.8"/>
<text x="221.5" y="645" font-size="13.1" text-anchor="start" textLength="189" lengthAdjust="spacingAndGlyphs">HOM-White-F Birmingham, AL24</text>
<rect x="322.5" y="656" width="194" height="15.5" fill="none" stroke="#1d57a3" stroke-width="1" stroke-dasharray="1 0.8"/>
<text x="322.5" y="668" font-size="13.1" text-anchor="start" textLength="193" lengthAdjust="spacingAndGlyphs">HOM-White-M Birmingham, AL24</text>
<rect x="310.5" y="667" width="188" height="15.5" fill="none" stroke="#1d57a3" stroke-width="1" stroke-dasharray="1 0.8"/>
<text x="310.5" y="679" font-size="13.1" text-anchor="start" textLength="187" lengthAdjust="spacingAndGlyphs">HOM-17-Black Milwaukee, WI24</text>
<rect x="345.5" y="676" width="189" height="15.5" fill="none" stroke="#1d57a3" stroke-width="1" stroke-dasharray="1 0.8"/>
<text x="345.5" y="688" font-size="13.1" text-anchor="start" textLength="188" lengthAdjust="spacingAndGlyphs">HOM-17-Black Milwaukee, WI23</text>
<rect x="209.5" y="682" width="190" height="15.5" fill="none" stroke="#1d57a3" stroke-width="1" stroke-dasharray="1 0.8"/>
<text x="209.5" y="694" font-size="13.1" text-anchor="start" textLength="189" lengthAdjust="spacingAndGlyphs">HOM-17-White Milwaukee, WI24</text>
<rect x="244.5" y="682" width="188" height="15.5" fill="none" stroke="#1d57a3" stroke-width="1" stroke-dasharray="1 0.8"/>
<text x="244.5" y="694" font-size="13.1" text-anchor="start" textLength="187" lengthAdjust="spacingAndGlyphs">HOM-17-White Milwaukee, WI23</text>
<rect x="245.5" y="697" width="170" height="15.5" fill="none" stroke="#1d57a3" stroke-width="1" stroke-dasharray="1 0.8"/>
<text x="245.5" y="709" font-size="13.1" text-anchor="start" textLength="169" lengthAdjust="spacingAndGlyphs">HOM-Asian Milwaukee, WI23</text>
<rect x="262.5" y="697" width="170" height="15.5" fill="none" stroke="#1d57a3" stroke-width="1" stroke-dasharray="1 0.8"/>
<text x="262.5" y="709" font-size="13.1" text-anchor="start" textLength="169" lengthAdjust="spacingAndGlyphs">HOM-Asian Milwaukee, WI22</text>
<rect x="378.5" y="697" width="173" height="15.5" fill="none" stroke="#1d57a3" stroke-width="1" stroke-dasharray="1 0.8"/>
<text x="378.5" y="709" font-size="13.1" text-anchor="start" textLength="172" lengthAdjust="spacingAndGlyphs">HOM-Other Birmingham, AL24</text>
<rect x="209.5" y="706" width="170" height="15.5" fill="none" stroke="#1d57a3" stroke-width="1" stroke-dasharray="1 0.8"/>
<text x="209.5" y="718" font-size="13.1" text-anchor="start" textLength="169" lengthAdjust="spacingAndGlyphs">HOM-Asian Milwaukee, WI24</text>
<rect x="403.5" y="709" width="195" height="15.5" fill="none" stroke="#1d57a3" stroke-width="1" stroke-dasharray="1 0.8"/>
<text x="403.5" y="721" font-size="13.1" text-anchor="start" textLength="194" lengthAdjust="spacingAndGlyphs">HOM-Hispanic Birmingham, AL24</text>
<rect x="954.5" y="575" width="136" height="15.5" fill="none" stroke="#1d57a3" stroke-width="1" stroke-dasharray="1 0.8"/>
<text x="954.5" y="587" font-size="13.1" text-anchor="start" textLength="135" lengthAdjust="spacingAndGlyphs">Pb-Child Afghanistan21</text>
<rect x="853.5" y="589" width="114" height="15.5" fill="none" stroke="#1d57a3" stroke-width="1" stroke-dasharray="1 0.8"/>
<text x="853.5" y="601" font-size="13.1" text-anchor="start" textLength="113" lengthAdjust="spacingAndGlyphs">Pb10-Child Gaza22</text>
<rect x="769.5" y="604" width="154" height="15.5" fill="none" stroke="#1d57a3" stroke-width="1" stroke-dasharray="1 0.8"/>
<text x="769.5" y="616" font-size="13.1" text-anchor="start" textLength="153" lengthAdjust="spacingAndGlyphs">Pb2-Hispanic Child5 US23</text>
<rect x="816.5" y="624" width="136" height="15.5" fill="none" stroke="#1d57a3" stroke-width="1" stroke-dasharray="1 0.8"/>
<text x="816.5" y="636" font-size="13.1" text-anchor="start" textLength="135" lengthAdjust="spacingAndGlyphs">Pb2-Black Child5 US23</text>
<rect x="780.5" y="636" width="179" height="15.5" fill="none" stroke="#1d57a3" stroke-width="1" stroke-dasharray="1 0.8"/>
<text x="780.5" y="648" font-size="13.1" text-anchor="start" textLength="178" lengthAdjust="spacingAndGlyphs">Chernobyl-Sickness Ukraine24</text>
<rect x="780.5" y="664" width="136" height="15.5" fill="none" stroke="#1d57a3" stroke-width="1" stroke-dasharray="1 0.8"/>
<text x="780.5" y="676" font-size="13.1" text-anchor="start" textLength="135" lengthAdjust="spacingAndGlyphs">Pb2-Other Child5 US23</text>
<rect x="753.5" y="674" width="148" height="15.5" fill="none" stroke="#1d57a3" stroke-width="1" stroke-dasharray="1 0.8"/>
<text x="753.5" y="686" font-size="13.1" text-anchor="start" textLength="147" lengthAdjust="spacingAndGlyphs">Pb3.5-Black-under6 WI22</text>
<rect x="685.5" y="687" width="165" height="15.5" fill="none" stroke="#1d57a3" stroke-width="1" stroke-dasharray="1 0.8"/>
<text x="685.5" y="699" font-size="13.1" text-anchor="start" textLength="164" lengthAdjust="spacingAndGlyphs">Pb3.5-Hispanic-under6 WI22</text>
<rect x="696.5" y="700" width="192" height="15.5" fill="none" stroke="#1d57a3" stroke-width="1" stroke-dasharray="1 0.8"/>
<text x="696.5" y="712" font-size="13.1" text-anchor="start" textLength="191" lengthAdjust="spacingAndGlyphs">Pb3.5-Asian/Pacific-under6 WI22</text>
<rect x="700.5" y="719" width="153" height="15.5" fill="none" stroke="#1d57a3" stroke-width="1" stroke-dasharray="1 0.8"/>
<text x="700.5" y="731" font-size="13.1" text-anchor="start" textLength="152" lengthAdjust="spacingAndGlyphs">Pb3.5-Native-under6 WI22</text>
</svg></body></html>
